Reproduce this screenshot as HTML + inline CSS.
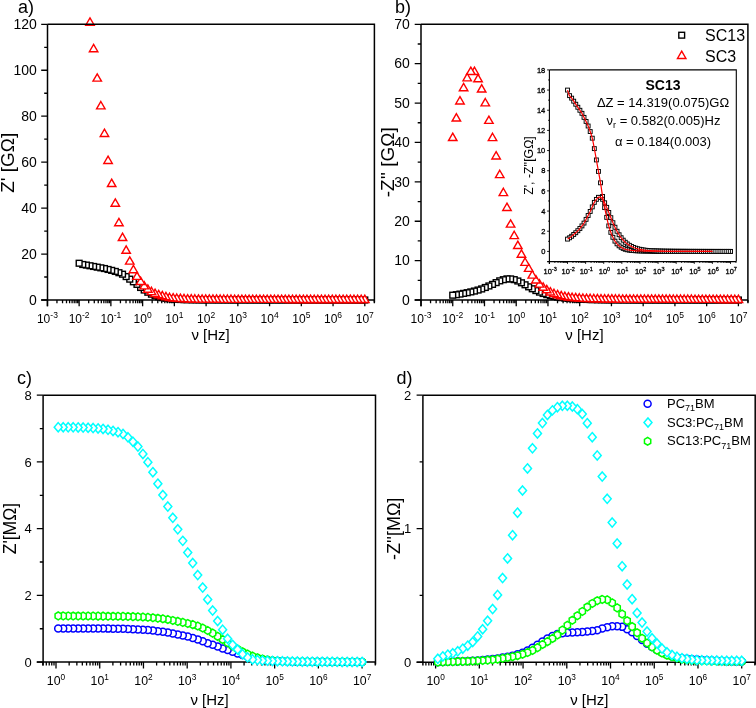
<!DOCTYPE html><html><head><meta charset="utf-8"><style>html,body{margin:0;padding:0;background:#fff}svg{display:block}text{font-family:"Liberation Sans", sans-serif;fill:#000}svg{will-change:transform}</style></head><body>
<svg width="756" height="708" viewBox="0 0 756 708">
<rect width="756" height="708" fill="#fff"/>
<g id="pa">
<line x1="41.20" y1="300.00" x2="374.40" y2="300.00" stroke="#000" stroke-width="1.5"/>
<line x1="47.50" y1="24.30" x2="47.50" y2="306.30" stroke="#000" stroke-width="1.5"/>
<path d="M47.40,300.00v6.30M56.95,300.00v3.30M62.54,300.00v3.30M66.51,300.00v3.30M69.59,300.00v3.30M72.10,300.00v3.30M74.22,300.00v3.30M76.06,300.00v3.30M77.69,300.00v3.30M79.14,300.00v6.30M88.69,300.00v3.30M94.28,300.00v3.30M98.25,300.00v3.30M101.33,300.00v3.30M103.84,300.00v3.30M105.96,300.00v3.30M107.80,300.00v3.30M109.43,300.00v3.30M110.88,300.00v6.30M120.43,300.00v3.30M126.02,300.00v3.30M129.99,300.00v3.30M133.07,300.00v3.30M135.58,300.00v3.30M137.70,300.00v3.30M139.54,300.00v3.30M141.17,300.00v3.30M142.62,300.00v6.30M152.17,300.00v3.30M157.76,300.00v3.30M161.73,300.00v3.30M164.81,300.00v3.30M167.32,300.00v3.30M169.44,300.00v3.30M171.28,300.00v3.30M172.91,300.00v3.30M174.36,300.00v6.30M183.91,300.00v3.30M189.50,300.00v3.30M193.47,300.00v3.30M196.55,300.00v3.30M199.06,300.00v3.30M201.18,300.00v3.30M203.02,300.00v3.30M204.65,300.00v3.30M206.10,300.00v6.30M215.65,300.00v3.30M221.24,300.00v3.30M225.21,300.00v3.30M228.29,300.00v3.30M230.80,300.00v3.30M232.92,300.00v3.30M234.76,300.00v3.30M236.39,300.00v3.30M237.84,300.00v6.30M247.39,300.00v3.30M252.98,300.00v3.30M256.95,300.00v3.30M260.03,300.00v3.30M262.54,300.00v3.30M264.66,300.00v3.30M266.50,300.00v3.30M268.13,300.00v3.30M269.58,300.00v6.30M279.13,300.00v3.30M284.72,300.00v3.30M288.69,300.00v3.30M291.77,300.00v3.30M294.28,300.00v3.30M296.40,300.00v3.30M298.24,300.00v3.30M299.87,300.00v3.30M301.32,300.00v6.30M310.87,300.00v3.30M316.46,300.00v3.30M320.43,300.00v3.30M323.51,300.00v3.30M326.02,300.00v3.30M328.14,300.00v3.30M329.98,300.00v3.30M331.61,300.00v3.30M333.06,300.00v6.30M342.61,300.00v3.30M348.20,300.00v3.30M352.17,300.00v3.30M355.25,300.00v3.30M357.76,300.00v3.30M359.88,300.00v3.30M361.72,300.00v3.30M363.35,300.00v3.30M364.80,300.00v6.30M374.35,300.00v3.30" stroke="#000" stroke-width="1.3" fill="none"/>
<path d="M47.50,300.00h-6.30M47.50,254.05h-6.30M47.50,208.10h-6.30M47.50,162.15h-6.30M47.50,116.20h-6.30M47.50,70.25h-6.30M47.50,24.30h-6.30M47.50,277.02h-3.30M47.50,231.07h-3.30M47.50,185.12h-3.30M47.50,139.18h-3.30M47.50,93.23h-3.30M47.50,47.28h-3.30" stroke="#000" stroke-width="1.3" fill="none"/>
<text x="36.80" y="304.70" font-size="14" text-anchor="end" font-weight="normal" >0</text>
<text x="36.80" y="258.75" font-size="14" text-anchor="end" font-weight="normal" >20</text>
<text x="36.80" y="212.80" font-size="14" text-anchor="end" font-weight="normal" >40</text>
<text x="36.80" y="166.85" font-size="14" text-anchor="end" font-weight="normal" >60</text>
<text x="36.80" y="120.90" font-size="14" text-anchor="end" font-weight="normal" >80</text>
<text x="36.80" y="74.95" font-size="14" text-anchor="end" font-weight="normal" >100</text>
<text x="36.80" y="29.00" font-size="14" text-anchor="end" font-weight="normal" >120</text>
<text x="47.40" y="323.00" font-size="12" text-anchor="middle">10<tspan dy="-4.8" font-size="8.5">-3</tspan></text>
<text x="79.14" y="323.00" font-size="12" text-anchor="middle">10<tspan dy="-4.8" font-size="8.5">-2</tspan></text>
<text x="110.88" y="323.00" font-size="12" text-anchor="middle">10<tspan dy="-4.8" font-size="8.5">-1</tspan></text>
<text x="142.62" y="323.00" font-size="12" text-anchor="middle">10<tspan dy="-4.8" font-size="8.5">0</tspan></text>
<text x="174.36" y="323.00" font-size="12" text-anchor="middle">10<tspan dy="-4.8" font-size="8.5">1</tspan></text>
<text x="206.10" y="323.00" font-size="12" text-anchor="middle">10<tspan dy="-4.8" font-size="8.5">2</tspan></text>
<text x="237.84" y="323.00" font-size="12" text-anchor="middle">10<tspan dy="-4.8" font-size="8.5">3</tspan></text>
<text x="269.58" y="323.00" font-size="12" text-anchor="middle">10<tspan dy="-4.8" font-size="8.5">4</tspan></text>
<text x="301.32" y="323.00" font-size="12" text-anchor="middle">10<tspan dy="-4.8" font-size="8.5">5</tspan></text>
<text x="333.06" y="323.00" font-size="12" text-anchor="middle">10<tspan dy="-4.8" font-size="8.5">6</tspan></text>
<text x="364.80" y="323.00" font-size="12" text-anchor="middle">10<tspan dy="-4.8" font-size="8.5">7</tspan></text>
<rect x="361.90" y="297.10" width="5.80" height="5.80" fill="#fff" stroke="#000" stroke-width="1.4"/>
<rect x="358.28" y="297.10" width="5.80" height="5.80" fill="#fff" stroke="#000" stroke-width="1.4"/>
<rect x="354.67" y="297.10" width="5.80" height="5.80" fill="#fff" stroke="#000" stroke-width="1.4"/>
<rect x="351.05" y="297.10" width="5.80" height="5.80" fill="#fff" stroke="#000" stroke-width="1.4"/>
<rect x="347.44" y="297.10" width="5.80" height="5.80" fill="#fff" stroke="#000" stroke-width="1.4"/>
<rect x="343.82" y="297.10" width="5.80" height="5.80" fill="#fff" stroke="#000" stroke-width="1.4"/>
<rect x="340.20" y="297.10" width="5.80" height="5.80" fill="#fff" stroke="#000" stroke-width="1.4"/>
<rect x="336.59" y="297.10" width="5.80" height="5.80" fill="#fff" stroke="#000" stroke-width="1.4"/>
<rect x="332.97" y="297.10" width="5.80" height="5.80" fill="#fff" stroke="#000" stroke-width="1.4"/>
<rect x="329.36" y="297.10" width="5.80" height="5.80" fill="#fff" stroke="#000" stroke-width="1.4"/>
<rect x="325.74" y="297.10" width="5.80" height="5.80" fill="#fff" stroke="#000" stroke-width="1.4"/>
<rect x="322.12" y="297.09" width="5.80" height="5.80" fill="#fff" stroke="#000" stroke-width="1.4"/>
<rect x="318.51" y="297.09" width="5.80" height="5.80" fill="#fff" stroke="#000" stroke-width="1.4"/>
<rect x="314.89" y="297.09" width="5.80" height="5.80" fill="#fff" stroke="#000" stroke-width="1.4"/>
<rect x="311.28" y="297.09" width="5.80" height="5.80" fill="#fff" stroke="#000" stroke-width="1.4"/>
<rect x="307.66" y="297.09" width="5.80" height="5.80" fill="#fff" stroke="#000" stroke-width="1.4"/>
<rect x="304.04" y="297.09" width="5.80" height="5.80" fill="#fff" stroke="#000" stroke-width="1.4"/>
<rect x="300.43" y="297.09" width="5.80" height="5.80" fill="#fff" stroke="#000" stroke-width="1.4"/>
<rect x="296.81" y="297.09" width="5.80" height="5.80" fill="#fff" stroke="#000" stroke-width="1.4"/>
<rect x="293.20" y="297.09" width="5.80" height="5.80" fill="#fff" stroke="#000" stroke-width="1.4"/>
<rect x="289.58" y="297.09" width="5.80" height="5.80" fill="#fff" stroke="#000" stroke-width="1.4"/>
<rect x="285.97" y="297.08" width="5.80" height="5.80" fill="#fff" stroke="#000" stroke-width="1.4"/>
<rect x="282.35" y="297.08" width="5.80" height="5.80" fill="#fff" stroke="#000" stroke-width="1.4"/>
<rect x="278.73" y="297.08" width="5.80" height="5.80" fill="#fff" stroke="#000" stroke-width="1.4"/>
<rect x="275.12" y="297.08" width="5.80" height="5.80" fill="#fff" stroke="#000" stroke-width="1.4"/>
<rect x="271.50" y="297.08" width="5.80" height="5.80" fill="#fff" stroke="#000" stroke-width="1.4"/>
<rect x="267.89" y="297.08" width="5.80" height="5.80" fill="#fff" stroke="#000" stroke-width="1.4"/>
<rect x="264.27" y="297.08" width="5.80" height="5.80" fill="#fff" stroke="#000" stroke-width="1.4"/>
<rect x="260.65" y="297.07" width="5.80" height="5.80" fill="#fff" stroke="#000" stroke-width="1.4"/>
<rect x="257.04" y="297.07" width="5.80" height="5.80" fill="#fff" stroke="#000" stroke-width="1.4"/>
<rect x="253.42" y="297.07" width="5.80" height="5.80" fill="#fff" stroke="#000" stroke-width="1.4"/>
<rect x="249.81" y="297.07" width="5.80" height="5.80" fill="#fff" stroke="#000" stroke-width="1.4"/>
<rect x="246.19" y="297.07" width="5.80" height="5.80" fill="#fff" stroke="#000" stroke-width="1.4"/>
<rect x="242.57" y="297.07" width="5.80" height="5.80" fill="#fff" stroke="#000" stroke-width="1.4"/>
<rect x="238.96" y="297.06" width="5.80" height="5.80" fill="#fff" stroke="#000" stroke-width="1.4"/>
<rect x="235.34" y="297.06" width="5.80" height="5.80" fill="#fff" stroke="#000" stroke-width="1.4"/>
<rect x="231.73" y="297.06" width="5.80" height="5.80" fill="#fff" stroke="#000" stroke-width="1.4"/>
<rect x="228.11" y="297.05" width="5.80" height="5.80" fill="#fff" stroke="#000" stroke-width="1.4"/>
<rect x="224.49" y="297.05" width="5.80" height="5.80" fill="#fff" stroke="#000" stroke-width="1.4"/>
<rect x="220.88" y="297.04" width="5.80" height="5.80" fill="#fff" stroke="#000" stroke-width="1.4"/>
<rect x="217.26" y="297.04" width="5.80" height="5.80" fill="#fff" stroke="#000" stroke-width="1.4"/>
<rect x="213.65" y="297.03" width="5.80" height="5.80" fill="#fff" stroke="#000" stroke-width="1.4"/>
<rect x="210.03" y="297.02" width="5.80" height="5.80" fill="#fff" stroke="#000" stroke-width="1.4"/>
<rect x="206.41" y="297.01" width="5.80" height="5.80" fill="#fff" stroke="#000" stroke-width="1.4"/>
<rect x="202.80" y="296.99" width="5.80" height="5.80" fill="#fff" stroke="#000" stroke-width="1.4"/>
<rect x="199.18" y="296.98" width="5.80" height="5.80" fill="#fff" stroke="#000" stroke-width="1.4"/>
<rect x="195.57" y="296.95" width="5.80" height="5.80" fill="#fff" stroke="#000" stroke-width="1.4"/>
<rect x="191.95" y="296.92" width="5.80" height="5.80" fill="#fff" stroke="#000" stroke-width="1.4"/>
<rect x="188.33" y="296.87" width="5.80" height="5.80" fill="#fff" stroke="#000" stroke-width="1.4"/>
<rect x="184.72" y="296.81" width="5.80" height="5.80" fill="#fff" stroke="#000" stroke-width="1.4"/>
<rect x="181.10" y="296.74" width="5.80" height="5.80" fill="#fff" stroke="#000" stroke-width="1.4"/>
<rect x="177.49" y="296.62" width="5.80" height="5.80" fill="#fff" stroke="#000" stroke-width="1.4"/>
<rect x="173.87" y="296.42" width="5.80" height="5.80" fill="#fff" stroke="#000" stroke-width="1.4"/>
<rect x="170.25" y="296.16" width="5.80" height="5.80" fill="#fff" stroke="#000" stroke-width="1.4"/>
<rect x="166.64" y="295.83" width="5.80" height="5.80" fill="#fff" stroke="#000" stroke-width="1.4"/>
<rect x="163.02" y="295.38" width="5.80" height="5.80" fill="#fff" stroke="#000" stroke-width="1.4"/>
<rect x="159.41" y="294.76" width="5.80" height="5.80" fill="#fff" stroke="#000" stroke-width="1.4"/>
<rect x="155.79" y="293.89" width="5.80" height="5.80" fill="#fff" stroke="#000" stroke-width="1.4"/>
<rect x="152.17" y="292.76" width="5.80" height="5.80" fill="#fff" stroke="#000" stroke-width="1.4"/>
<rect x="148.56" y="291.29" width="5.80" height="5.80" fill="#fff" stroke="#000" stroke-width="1.4"/>
<rect x="144.94" y="289.35" width="5.80" height="5.80" fill="#fff" stroke="#000" stroke-width="1.4"/>
<rect x="141.33" y="287.12" width="5.80" height="5.80" fill="#fff" stroke="#000" stroke-width="1.4"/>
<rect x="137.71" y="284.57" width="5.80" height="5.80" fill="#fff" stroke="#000" stroke-width="1.4"/>
<rect x="134.10" y="281.47" width="5.80" height="5.80" fill="#fff" stroke="#000" stroke-width="1.4"/>
<rect x="130.48" y="278.88" width="5.80" height="5.80" fill="#fff" stroke="#000" stroke-width="1.4"/>
<rect x="126.86" y="276.26" width="5.80" height="5.80" fill="#fff" stroke="#000" stroke-width="1.4"/>
<rect x="123.25" y="273.68" width="5.80" height="5.80" fill="#fff" stroke="#000" stroke-width="1.4"/>
<rect x="119.63" y="271.30" width="5.80" height="5.80" fill="#fff" stroke="#000" stroke-width="1.4"/>
<rect x="116.02" y="269.80" width="5.80" height="5.80" fill="#fff" stroke="#000" stroke-width="1.4"/>
<rect x="112.40" y="268.53" width="5.80" height="5.80" fill="#fff" stroke="#000" stroke-width="1.4"/>
<rect x="108.78" y="267.48" width="5.80" height="5.80" fill="#fff" stroke="#000" stroke-width="1.4"/>
<rect x="105.17" y="266.56" width="5.80" height="5.80" fill="#fff" stroke="#000" stroke-width="1.4"/>
<rect x="101.55" y="265.64" width="5.80" height="5.80" fill="#fff" stroke="#000" stroke-width="1.4"/>
<rect x="97.94" y="264.94" width="5.80" height="5.80" fill="#fff" stroke="#000" stroke-width="1.4"/>
<rect x="94.32" y="264.26" width="5.80" height="5.80" fill="#fff" stroke="#000" stroke-width="1.4"/>
<rect x="90.70" y="263.57" width="5.80" height="5.80" fill="#fff" stroke="#000" stroke-width="1.4"/>
<rect x="87.09" y="262.87" width="5.80" height="5.80" fill="#fff" stroke="#000" stroke-width="1.4"/>
<rect x="83.47" y="262.18" width="5.80" height="5.80" fill="#fff" stroke="#000" stroke-width="1.4"/>
<rect x="79.86" y="261.61" width="5.80" height="5.80" fill="#fff" stroke="#000" stroke-width="1.4"/>
<rect x="76.24" y="260.34" width="5.80" height="5.80" fill="#fff" stroke="#000" stroke-width="1.4"/>
<path d="M364.80,295.10L369.04,302.45L360.56,302.45Z" fill="#fff" stroke="#f00" stroke-width="1.4" stroke-linejoin="miter"/>
<path d="M361.18,295.10L365.43,302.45L356.94,302.45Z" fill="#fff" stroke="#f00" stroke-width="1.4" stroke-linejoin="miter"/>
<path d="M357.57,295.10L361.81,302.45L353.32,302.45Z" fill="#fff" stroke="#f00" stroke-width="1.4" stroke-linejoin="miter"/>
<path d="M353.95,295.10L358.20,302.45L349.71,302.45Z" fill="#fff" stroke="#f00" stroke-width="1.4" stroke-linejoin="miter"/>
<path d="M350.34,295.10L354.58,302.45L346.09,302.45Z" fill="#fff" stroke="#f00" stroke-width="1.4" stroke-linejoin="miter"/>
<path d="M346.72,295.10L350.96,302.45L342.48,302.45Z" fill="#fff" stroke="#f00" stroke-width="1.4" stroke-linejoin="miter"/>
<path d="M343.10,295.10L347.35,302.45L338.86,302.45Z" fill="#fff" stroke="#f00" stroke-width="1.4" stroke-linejoin="miter"/>
<path d="M339.49,295.10L343.73,302.45L335.24,302.45Z" fill="#fff" stroke="#f00" stroke-width="1.4" stroke-linejoin="miter"/>
<path d="M335.87,295.10L340.12,302.45L331.63,302.45Z" fill="#fff" stroke="#f00" stroke-width="1.4" stroke-linejoin="miter"/>
<path d="M332.26,295.10L336.50,302.45L328.01,302.45Z" fill="#fff" stroke="#f00" stroke-width="1.4" stroke-linejoin="miter"/>
<path d="M328.64,295.09L332.88,302.44L324.40,302.44Z" fill="#fff" stroke="#f00" stroke-width="1.4" stroke-linejoin="miter"/>
<path d="M325.02,295.09L329.27,302.44L320.78,302.44Z" fill="#fff" stroke="#f00" stroke-width="1.4" stroke-linejoin="miter"/>
<path d="M321.41,295.09L325.65,302.44L317.17,302.44Z" fill="#fff" stroke="#f00" stroke-width="1.4" stroke-linejoin="miter"/>
<path d="M317.79,295.09L322.04,302.44L313.55,302.44Z" fill="#fff" stroke="#f00" stroke-width="1.4" stroke-linejoin="miter"/>
<path d="M314.18,295.09L318.42,302.44L309.93,302.44Z" fill="#fff" stroke="#f00" stroke-width="1.4" stroke-linejoin="miter"/>
<path d="M310.56,295.09L314.80,302.44L306.32,302.44Z" fill="#fff" stroke="#f00" stroke-width="1.4" stroke-linejoin="miter"/>
<path d="M306.94,295.09L311.19,302.44L302.70,302.44Z" fill="#fff" stroke="#f00" stroke-width="1.4" stroke-linejoin="miter"/>
<path d="M303.33,295.08L307.57,302.43L299.09,302.43Z" fill="#fff" stroke="#f00" stroke-width="1.4" stroke-linejoin="miter"/>
<path d="M299.71,295.08L303.96,302.43L295.47,302.43Z" fill="#fff" stroke="#f00" stroke-width="1.4" stroke-linejoin="miter"/>
<path d="M296.10,295.08L300.34,302.43L291.85,302.43Z" fill="#fff" stroke="#f00" stroke-width="1.4" stroke-linejoin="miter"/>
<path d="M292.48,295.08L296.72,302.43L288.24,302.43Z" fill="#fff" stroke="#f00" stroke-width="1.4" stroke-linejoin="miter"/>
<path d="M288.87,295.08L293.11,302.43L284.62,302.43Z" fill="#fff" stroke="#f00" stroke-width="1.4" stroke-linejoin="miter"/>
<path d="M285.25,295.07L289.49,302.42L281.01,302.42Z" fill="#fff" stroke="#f00" stroke-width="1.4" stroke-linejoin="miter"/>
<path d="M281.63,295.07L285.88,302.42L277.39,302.42Z" fill="#fff" stroke="#f00" stroke-width="1.4" stroke-linejoin="miter"/>
<path d="M278.02,295.07L282.26,302.42L273.77,302.42Z" fill="#fff" stroke="#f00" stroke-width="1.4" stroke-linejoin="miter"/>
<path d="M274.40,295.06L278.64,302.41L270.16,302.41Z" fill="#fff" stroke="#f00" stroke-width="1.4" stroke-linejoin="miter"/>
<path d="M270.79,295.06L275.03,302.41L266.54,302.41Z" fill="#fff" stroke="#f00" stroke-width="1.4" stroke-linejoin="miter"/>
<path d="M267.17,295.06L271.41,302.41L262.93,302.41Z" fill="#fff" stroke="#f00" stroke-width="1.4" stroke-linejoin="miter"/>
<path d="M263.55,295.06L267.80,302.41L259.31,302.41Z" fill="#fff" stroke="#f00" stroke-width="1.4" stroke-linejoin="miter"/>
<path d="M259.94,295.05L264.18,302.40L255.69,302.40Z" fill="#fff" stroke="#f00" stroke-width="1.4" stroke-linejoin="miter"/>
<path d="M256.32,295.05L260.56,302.40L252.08,302.40Z" fill="#fff" stroke="#f00" stroke-width="1.4" stroke-linejoin="miter"/>
<path d="M252.71,295.05L256.95,302.40L248.46,302.40Z" fill="#fff" stroke="#f00" stroke-width="1.4" stroke-linejoin="miter"/>
<path d="M249.09,295.04L253.33,302.39L244.85,302.39Z" fill="#fff" stroke="#f00" stroke-width="1.4" stroke-linejoin="miter"/>
<path d="M245.47,295.04L249.72,302.39L241.23,302.39Z" fill="#fff" stroke="#f00" stroke-width="1.4" stroke-linejoin="miter"/>
<path d="M241.86,295.04L246.10,302.39L237.61,302.39Z" fill="#fff" stroke="#f00" stroke-width="1.4" stroke-linejoin="miter"/>
<path d="M238.24,295.03L242.49,302.38L234.00,302.38Z" fill="#fff" stroke="#f00" stroke-width="1.4" stroke-linejoin="miter"/>
<path d="M234.63,295.03L238.87,302.38L230.38,302.38Z" fill="#fff" stroke="#f00" stroke-width="1.4" stroke-linejoin="miter"/>
<path d="M231.01,295.02L235.25,302.37L226.77,302.37Z" fill="#fff" stroke="#f00" stroke-width="1.4" stroke-linejoin="miter"/>
<path d="M227.39,295.01L231.64,302.36L223.15,302.36Z" fill="#fff" stroke="#f00" stroke-width="1.4" stroke-linejoin="miter"/>
<path d="M223.78,295.00L228.02,302.35L219.53,302.35Z" fill="#fff" stroke="#f00" stroke-width="1.4" stroke-linejoin="miter"/>
<path d="M220.16,294.99L224.41,302.34L215.92,302.34Z" fill="#fff" stroke="#f00" stroke-width="1.4" stroke-linejoin="miter"/>
<path d="M216.55,294.97L220.79,302.32L212.30,302.32Z" fill="#fff" stroke="#f00" stroke-width="1.4" stroke-linejoin="miter"/>
<path d="M212.93,294.96L217.17,302.31L208.69,302.31Z" fill="#fff" stroke="#f00" stroke-width="1.4" stroke-linejoin="miter"/>
<path d="M209.31,294.94L213.56,302.29L205.07,302.29Z" fill="#fff" stroke="#f00" stroke-width="1.4" stroke-linejoin="miter"/>
<path d="M205.70,294.91L209.94,302.26L201.45,302.26Z" fill="#fff" stroke="#f00" stroke-width="1.4" stroke-linejoin="miter"/>
<path d="M202.08,294.87L206.33,302.22L197.84,302.22Z" fill="#fff" stroke="#f00" stroke-width="1.4" stroke-linejoin="miter"/>
<path d="M198.47,294.81L202.71,302.16L194.22,302.16Z" fill="#fff" stroke="#f00" stroke-width="1.4" stroke-linejoin="miter"/>
<path d="M194.85,294.74L199.09,302.09L190.61,302.09Z" fill="#fff" stroke="#f00" stroke-width="1.4" stroke-linejoin="miter"/>
<path d="M191.23,294.66L195.48,302.01L186.99,302.01Z" fill="#fff" stroke="#f00" stroke-width="1.4" stroke-linejoin="miter"/>
<path d="M187.62,294.54L191.86,301.89L183.38,301.89Z" fill="#fff" stroke="#f00" stroke-width="1.4" stroke-linejoin="miter"/>
<path d="M184.00,294.40L188.25,301.75L179.76,301.75Z" fill="#fff" stroke="#f00" stroke-width="1.4" stroke-linejoin="miter"/>
<path d="M180.39,294.21L184.63,301.56L176.14,301.56Z" fill="#fff" stroke="#f00" stroke-width="1.4" stroke-linejoin="miter"/>
<path d="M176.77,293.98L181.01,301.33L172.53,301.33Z" fill="#fff" stroke="#f00" stroke-width="1.4" stroke-linejoin="miter"/>
<path d="M173.15,293.66L177.40,301.01L168.91,301.01Z" fill="#fff" stroke="#f00" stroke-width="1.4" stroke-linejoin="miter"/>
<path d="M169.54,293.25L173.78,300.60L165.30,300.60Z" fill="#fff" stroke="#f00" stroke-width="1.4" stroke-linejoin="miter"/>
<path d="M165.92,292.40L170.17,299.75L161.68,299.75Z" fill="#fff" stroke="#f00" stroke-width="1.4" stroke-linejoin="miter"/>
<path d="M162.31,291.43L166.55,298.78L158.06,298.78Z" fill="#fff" stroke="#f00" stroke-width="1.4" stroke-linejoin="miter"/>
<path d="M158.69,290.42L162.93,297.77L154.45,297.77Z" fill="#fff" stroke="#f00" stroke-width="1.4" stroke-linejoin="miter"/>
<path d="M155.07,289.08L159.32,296.43L150.83,296.43Z" fill="#fff" stroke="#f00" stroke-width="1.4" stroke-linejoin="miter"/>
<path d="M151.46,287.26L155.70,294.61L147.22,294.61Z" fill="#fff" stroke="#f00" stroke-width="1.4" stroke-linejoin="miter"/>
<path d="M147.84,284.89L152.09,292.24L143.60,292.24Z" fill="#fff" stroke="#f00" stroke-width="1.4" stroke-linejoin="miter"/>
<path d="M144.23,281.57L148.47,288.92L139.98,288.92Z" fill="#fff" stroke="#f00" stroke-width="1.4" stroke-linejoin="miter"/>
<path d="M140.61,277.10L144.85,284.45L136.37,284.45Z" fill="#fff" stroke="#f00" stroke-width="1.4" stroke-linejoin="miter"/>
<path d="M137.00,272.04L141.24,279.39L132.75,279.39Z" fill="#fff" stroke="#f00" stroke-width="1.4" stroke-linejoin="miter"/>
<path d="M133.38,265.39L137.62,272.74L129.14,272.74Z" fill="#fff" stroke="#f00" stroke-width="1.4" stroke-linejoin="miter"/>
<path d="M129.76,256.79L134.01,264.14L125.52,264.14Z" fill="#fff" stroke="#f00" stroke-width="1.4" stroke-linejoin="miter"/>
<path d="M126.15,245.96L130.39,253.31L121.90,253.31Z" fill="#fff" stroke="#f00" stroke-width="1.4" stroke-linejoin="miter"/>
<path d="M122.53,233.18L126.77,240.53L118.29,240.53Z" fill="#fff" stroke="#f00" stroke-width="1.4" stroke-linejoin="miter"/>
<path d="M118.92,218.39L123.16,225.74L114.67,225.74Z" fill="#fff" stroke="#f00" stroke-width="1.4" stroke-linejoin="miter"/>
<path d="M115.30,198.83L119.54,206.18L111.06,206.18Z" fill="#fff" stroke="#f00" stroke-width="1.4" stroke-linejoin="miter"/>
<path d="M111.68,179.18L115.93,186.53L107.44,186.53Z" fill="#fff" stroke="#f00" stroke-width="1.4" stroke-linejoin="miter"/>
<path d="M108.07,156.16L112.31,163.51L103.82,163.51Z" fill="#fff" stroke="#f00" stroke-width="1.4" stroke-linejoin="miter"/>
<path d="M104.45,129.08L108.70,136.43L100.21,136.43Z" fill="#fff" stroke="#f00" stroke-width="1.4" stroke-linejoin="miter"/>
<path d="M100.84,101.51L105.08,108.86L96.59,108.86Z" fill="#fff" stroke="#f00" stroke-width="1.4" stroke-linejoin="miter"/>
<path d="M97.22,73.78L101.46,81.13L92.98,81.13Z" fill="#fff" stroke="#f00" stroke-width="1.4" stroke-linejoin="miter"/>
<path d="M93.60,44.34L97.85,51.69L89.36,51.69Z" fill="#fff" stroke="#f00" stroke-width="1.4" stroke-linejoin="miter"/>
<path d="M89.99,17.92L94.23,25.27L85.74,25.27Z" fill="#fff" stroke="#f00" stroke-width="1.4" stroke-linejoin="miter"/>
<path d="M47.50,24.30H374.40V302.50" stroke="#000" stroke-width="1.5" fill="none"/>
</g>
<g id="pb">
<line x1="414.70" y1="300.00" x2="747.90" y2="300.00" stroke="#000" stroke-width="1.5"/>
<line x1="421.00" y1="24.30" x2="421.00" y2="306.30" stroke="#000" stroke-width="1.5"/>
<path d="M421.00,300.00v6.30M430.55,300.00v3.30M436.14,300.00v3.30M440.11,300.00v3.30M443.19,300.00v3.30M445.70,300.00v3.30M447.82,300.00v3.30M449.66,300.00v3.30M451.29,300.00v3.30M452.74,300.00v6.30M462.29,300.00v3.30M467.88,300.00v3.30M471.85,300.00v3.30M474.93,300.00v3.30M477.44,300.00v3.30M479.56,300.00v3.30M481.40,300.00v3.30M483.03,300.00v3.30M484.48,300.00v6.30M494.03,300.00v3.30M499.62,300.00v3.30M503.59,300.00v3.30M506.67,300.00v3.30M509.18,300.00v3.30M511.30,300.00v3.30M513.14,300.00v3.30M514.77,300.00v3.30M516.22,300.00v6.30M525.77,300.00v3.30M531.36,300.00v3.30M535.33,300.00v3.30M538.41,300.00v3.30M540.92,300.00v3.30M543.04,300.00v3.30M544.88,300.00v3.30M546.51,300.00v3.30M547.96,300.00v6.30M557.51,300.00v3.30M563.10,300.00v3.30M567.07,300.00v3.30M570.15,300.00v3.30M572.66,300.00v3.30M574.78,300.00v3.30M576.62,300.00v3.30M578.25,300.00v3.30M579.70,300.00v6.30M589.25,300.00v3.30M594.84,300.00v3.30M598.81,300.00v3.30M601.89,300.00v3.30M604.40,300.00v3.30M606.52,300.00v3.30M608.36,300.00v3.30M609.99,300.00v3.30M611.44,300.00v6.30M620.99,300.00v3.30M626.58,300.00v3.30M630.55,300.00v3.30M633.63,300.00v3.30M636.14,300.00v3.30M638.26,300.00v3.30M640.10,300.00v3.30M641.73,300.00v3.30M643.18,300.00v6.30M652.73,300.00v3.30M658.32,300.00v3.30M662.29,300.00v3.30M665.37,300.00v3.30M667.88,300.00v3.30M670.00,300.00v3.30M671.84,300.00v3.30M673.47,300.00v3.30M674.92,300.00v6.30M684.47,300.00v3.30M690.06,300.00v3.30M694.03,300.00v3.30M697.11,300.00v3.30M699.62,300.00v3.30M701.74,300.00v3.30M703.58,300.00v3.30M705.21,300.00v3.30M706.66,300.00v6.30M716.21,300.00v3.30M721.80,300.00v3.30M725.77,300.00v3.30M728.85,300.00v3.30M731.36,300.00v3.30M733.48,300.00v3.30M735.32,300.00v3.30M736.95,300.00v3.30M738.40,300.00v6.30M747.95,300.00v3.30" stroke="#000" stroke-width="1.3" fill="none"/>
<path d="M421.00,300.00h-6.30M421.00,260.61h-6.30M421.00,221.23h-6.30M421.00,181.84h-6.30M421.00,142.46h-6.30M421.00,103.07h-6.30M421.00,63.69h-6.30M421.00,24.30h-6.30M421.00,280.31h-3.30M421.00,240.92h-3.30M421.00,201.54h-3.30M421.00,162.15h-3.30M421.00,122.76h-3.30M421.00,83.38h-3.30M421.00,43.99h-3.30" stroke="#000" stroke-width="1.3" fill="none"/>
<text x="409.80" y="304.70" font-size="14" text-anchor="end" font-weight="normal" >0</text>
<text x="409.80" y="265.31" font-size="14" text-anchor="end" font-weight="normal" >10</text>
<text x="409.80" y="225.93" font-size="14" text-anchor="end" font-weight="normal" >20</text>
<text x="409.80" y="186.54" font-size="14" text-anchor="end" font-weight="normal" >30</text>
<text x="409.80" y="147.16" font-size="14" text-anchor="end" font-weight="normal" >40</text>
<text x="409.80" y="107.77" font-size="14" text-anchor="end" font-weight="normal" >50</text>
<text x="409.80" y="68.39" font-size="14" text-anchor="end" font-weight="normal" >60</text>
<text x="409.80" y="29.00" font-size="14" text-anchor="end" font-weight="normal" >70</text>
<text x="421.00" y="323.00" font-size="12" text-anchor="middle">10<tspan dy="-4.8" font-size="8.5">-3</tspan></text>
<text x="452.74" y="323.00" font-size="12" text-anchor="middle">10<tspan dy="-4.8" font-size="8.5">-2</tspan></text>
<text x="484.48" y="323.00" font-size="12" text-anchor="middle">10<tspan dy="-4.8" font-size="8.5">-1</tspan></text>
<text x="516.22" y="323.00" font-size="12" text-anchor="middle">10<tspan dy="-4.8" font-size="8.5">0</tspan></text>
<text x="547.96" y="323.00" font-size="12" text-anchor="middle">10<tspan dy="-4.8" font-size="8.5">1</tspan></text>
<text x="579.70" y="323.00" font-size="12" text-anchor="middle">10<tspan dy="-4.8" font-size="8.5">2</tspan></text>
<text x="611.44" y="323.00" font-size="12" text-anchor="middle">10<tspan dy="-4.8" font-size="8.5">3</tspan></text>
<text x="643.18" y="323.00" font-size="12" text-anchor="middle">10<tspan dy="-4.8" font-size="8.5">4</tspan></text>
<text x="674.92" y="323.00" font-size="12" text-anchor="middle">10<tspan dy="-4.8" font-size="8.5">5</tspan></text>
<text x="706.66" y="323.00" font-size="12" text-anchor="middle">10<tspan dy="-4.8" font-size="8.5">6</tspan></text>
<text x="738.40" y="323.00" font-size="12" text-anchor="middle">10<tspan dy="-4.8" font-size="8.5">7</tspan></text>
<rect x="735.50" y="297.10" width="5.80" height="5.80" fill="#fff" stroke="#000" stroke-width="1.4"/>
<rect x="731.88" y="297.10" width="5.80" height="5.80" fill="#fff" stroke="#000" stroke-width="1.4"/>
<rect x="728.27" y="297.10" width="5.80" height="5.80" fill="#fff" stroke="#000" stroke-width="1.4"/>
<rect x="724.65" y="297.10" width="5.80" height="5.80" fill="#fff" stroke="#000" stroke-width="1.4"/>
<rect x="721.04" y="297.10" width="5.80" height="5.80" fill="#fff" stroke="#000" stroke-width="1.4"/>
<rect x="717.42" y="297.10" width="5.80" height="5.80" fill="#fff" stroke="#000" stroke-width="1.4"/>
<rect x="713.80" y="297.10" width="5.80" height="5.80" fill="#fff" stroke="#000" stroke-width="1.4"/>
<rect x="710.19" y="297.10" width="5.80" height="5.80" fill="#fff" stroke="#000" stroke-width="1.4"/>
<rect x="706.57" y="297.10" width="5.80" height="5.80" fill="#fff" stroke="#000" stroke-width="1.4"/>
<rect x="702.96" y="297.10" width="5.80" height="5.80" fill="#fff" stroke="#000" stroke-width="1.4"/>
<rect x="699.34" y="297.10" width="5.80" height="5.80" fill="#fff" stroke="#000" stroke-width="1.4"/>
<rect x="695.72" y="297.10" width="5.80" height="5.80" fill="#fff" stroke="#000" stroke-width="1.4"/>
<rect x="692.11" y="297.10" width="5.80" height="5.80" fill="#fff" stroke="#000" stroke-width="1.4"/>
<rect x="688.49" y="297.10" width="5.80" height="5.80" fill="#fff" stroke="#000" stroke-width="1.4"/>
<rect x="684.88" y="297.10" width="5.80" height="5.80" fill="#fff" stroke="#000" stroke-width="1.4"/>
<rect x="681.26" y="297.10" width="5.80" height="5.80" fill="#fff" stroke="#000" stroke-width="1.4"/>
<rect x="677.64" y="297.10" width="5.80" height="5.80" fill="#fff" stroke="#000" stroke-width="1.4"/>
<rect x="674.03" y="297.10" width="5.80" height="5.80" fill="#fff" stroke="#000" stroke-width="1.4"/>
<rect x="670.41" y="297.10" width="5.80" height="5.80" fill="#fff" stroke="#000" stroke-width="1.4"/>
<rect x="666.80" y="297.10" width="5.80" height="5.80" fill="#fff" stroke="#000" stroke-width="1.4"/>
<rect x="663.18" y="297.10" width="5.80" height="5.80" fill="#fff" stroke="#000" stroke-width="1.4"/>
<rect x="659.57" y="297.09" width="5.80" height="5.80" fill="#fff" stroke="#000" stroke-width="1.4"/>
<rect x="655.95" y="297.09" width="5.80" height="5.80" fill="#fff" stroke="#000" stroke-width="1.4"/>
<rect x="652.33" y="297.09" width="5.80" height="5.80" fill="#fff" stroke="#000" stroke-width="1.4"/>
<rect x="648.72" y="297.09" width="5.80" height="5.80" fill="#fff" stroke="#000" stroke-width="1.4"/>
<rect x="645.10" y="297.09" width="5.80" height="5.80" fill="#fff" stroke="#000" stroke-width="1.4"/>
<rect x="641.49" y="297.08" width="5.80" height="5.80" fill="#fff" stroke="#000" stroke-width="1.4"/>
<rect x="637.87" y="297.08" width="5.80" height="5.80" fill="#fff" stroke="#000" stroke-width="1.4"/>
<rect x="634.25" y="297.07" width="5.80" height="5.80" fill="#fff" stroke="#000" stroke-width="1.4"/>
<rect x="630.64" y="297.07" width="5.80" height="5.80" fill="#fff" stroke="#000" stroke-width="1.4"/>
<rect x="627.02" y="297.06" width="5.80" height="5.80" fill="#fff" stroke="#000" stroke-width="1.4"/>
<rect x="623.41" y="297.05" width="5.80" height="5.80" fill="#fff" stroke="#000" stroke-width="1.4"/>
<rect x="619.79" y="297.04" width="5.80" height="5.80" fill="#fff" stroke="#000" stroke-width="1.4"/>
<rect x="616.17" y="297.02" width="5.80" height="5.80" fill="#fff" stroke="#000" stroke-width="1.4"/>
<rect x="612.56" y="297.00" width="5.80" height="5.80" fill="#fff" stroke="#000" stroke-width="1.4"/>
<rect x="608.94" y="296.98" width="5.80" height="5.80" fill="#fff" stroke="#000" stroke-width="1.4"/>
<rect x="605.33" y="296.95" width="5.80" height="5.80" fill="#fff" stroke="#000" stroke-width="1.4"/>
<rect x="601.71" y="296.91" width="5.80" height="5.80" fill="#fff" stroke="#000" stroke-width="1.4"/>
<rect x="598.09" y="296.87" width="5.80" height="5.80" fill="#fff" stroke="#000" stroke-width="1.4"/>
<rect x="594.48" y="296.81" width="5.80" height="5.80" fill="#fff" stroke="#000" stroke-width="1.4"/>
<rect x="590.86" y="296.75" width="5.80" height="5.80" fill="#fff" stroke="#000" stroke-width="1.4"/>
<rect x="587.25" y="296.66" width="5.80" height="5.80" fill="#fff" stroke="#000" stroke-width="1.4"/>
<rect x="583.63" y="296.56" width="5.80" height="5.80" fill="#fff" stroke="#000" stroke-width="1.4"/>
<rect x="580.01" y="296.43" width="5.80" height="5.80" fill="#fff" stroke="#000" stroke-width="1.4"/>
<rect x="576.40" y="296.27" width="5.80" height="5.80" fill="#fff" stroke="#000" stroke-width="1.4"/>
<rect x="572.78" y="296.07" width="5.80" height="5.80" fill="#fff" stroke="#000" stroke-width="1.4"/>
<rect x="569.17" y="295.83" width="5.80" height="5.80" fill="#fff" stroke="#000" stroke-width="1.4"/>
<rect x="565.55" y="295.54" width="5.80" height="5.80" fill="#fff" stroke="#000" stroke-width="1.4"/>
<rect x="561.93" y="295.17" width="5.80" height="5.80" fill="#fff" stroke="#000" stroke-width="1.4"/>
<rect x="558.32" y="294.73" width="5.80" height="5.80" fill="#fff" stroke="#000" stroke-width="1.4"/>
<rect x="554.70" y="294.18" width="5.80" height="5.80" fill="#fff" stroke="#000" stroke-width="1.4"/>
<rect x="551.09" y="293.52" width="5.80" height="5.80" fill="#fff" stroke="#000" stroke-width="1.4"/>
<rect x="547.47" y="292.71" width="5.80" height="5.80" fill="#fff" stroke="#000" stroke-width="1.4"/>
<rect x="543.85" y="291.75" width="5.80" height="5.80" fill="#fff" stroke="#000" stroke-width="1.4"/>
<rect x="540.24" y="290.59" width="5.80" height="5.80" fill="#fff" stroke="#000" stroke-width="1.4"/>
<rect x="536.62" y="289.23" width="5.80" height="5.80" fill="#fff" stroke="#000" stroke-width="1.4"/>
<rect x="533.01" y="287.66" width="5.80" height="5.80" fill="#fff" stroke="#000" stroke-width="1.4"/>
<rect x="529.39" y="285.88" width="5.80" height="5.80" fill="#fff" stroke="#000" stroke-width="1.4"/>
<rect x="525.77" y="283.93" width="5.80" height="5.80" fill="#fff" stroke="#000" stroke-width="1.4"/>
<rect x="522.16" y="281.89" width="5.80" height="5.80" fill="#fff" stroke="#000" stroke-width="1.4"/>
<rect x="518.54" y="279.89" width="5.80" height="5.80" fill="#fff" stroke="#000" stroke-width="1.4"/>
<rect x="514.93" y="278.11" width="5.80" height="5.80" fill="#fff" stroke="#000" stroke-width="1.4"/>
<rect x="511.31" y="276.75" width="5.80" height="5.80" fill="#fff" stroke="#000" stroke-width="1.4"/>
<rect x="507.70" y="276.01" width="5.80" height="5.80" fill="#fff" stroke="#000" stroke-width="1.4"/>
<rect x="504.08" y="275.97" width="5.80" height="5.80" fill="#fff" stroke="#000" stroke-width="1.4"/>
<rect x="500.46" y="276.79" width="5.80" height="5.80" fill="#fff" stroke="#000" stroke-width="1.4"/>
<rect x="496.85" y="277.95" width="5.80" height="5.80" fill="#fff" stroke="#000" stroke-width="1.4"/>
<rect x="493.23" y="279.72" width="5.80" height="5.80" fill="#fff" stroke="#000" stroke-width="1.4"/>
<rect x="489.62" y="281.50" width="5.80" height="5.80" fill="#fff" stroke="#000" stroke-width="1.4"/>
<rect x="486.00" y="283.07" width="5.80" height="5.80" fill="#fff" stroke="#000" stroke-width="1.4"/>
<rect x="482.38" y="284.58" width="5.80" height="5.80" fill="#fff" stroke="#000" stroke-width="1.4"/>
<rect x="478.77" y="286.05" width="5.80" height="5.80" fill="#fff" stroke="#000" stroke-width="1.4"/>
<rect x="475.15" y="287.15" width="5.80" height="5.80" fill="#fff" stroke="#000" stroke-width="1.4"/>
<rect x="471.54" y="288.15" width="5.80" height="5.80" fill="#fff" stroke="#000" stroke-width="1.4"/>
<rect x="467.92" y="289.01" width="5.80" height="5.80" fill="#fff" stroke="#000" stroke-width="1.4"/>
<rect x="464.30" y="289.80" width="5.80" height="5.80" fill="#fff" stroke="#000" stroke-width="1.4"/>
<rect x="460.69" y="290.48" width="5.80" height="5.80" fill="#fff" stroke="#000" stroke-width="1.4"/>
<rect x="457.07" y="291.19" width="5.80" height="5.80" fill="#fff" stroke="#000" stroke-width="1.4"/>
<rect x="453.46" y="291.78" width="5.80" height="5.80" fill="#fff" stroke="#000" stroke-width="1.4"/>
<rect x="449.84" y="292.29" width="5.80" height="5.80" fill="#fff" stroke="#000" stroke-width="1.4"/>
<path d="M738.40,295.10L742.64,302.45L734.16,302.45Z" fill="#fff" stroke="#f00" stroke-width="1.4" stroke-linejoin="miter"/>
<path d="M734.78,295.10L739.03,302.45L730.54,302.45Z" fill="#fff" stroke="#f00" stroke-width="1.4" stroke-linejoin="miter"/>
<path d="M731.17,295.09L735.41,302.44L726.92,302.44Z" fill="#fff" stroke="#f00" stroke-width="1.4" stroke-linejoin="miter"/>
<path d="M727.55,295.09L731.80,302.44L723.31,302.44Z" fill="#fff" stroke="#f00" stroke-width="1.4" stroke-linejoin="miter"/>
<path d="M723.94,295.08L728.18,302.43L719.69,302.43Z" fill="#fff" stroke="#f00" stroke-width="1.4" stroke-linejoin="miter"/>
<path d="M720.32,295.08L724.56,302.43L716.08,302.43Z" fill="#fff" stroke="#f00" stroke-width="1.4" stroke-linejoin="miter"/>
<path d="M716.70,295.07L720.95,302.42L712.46,302.42Z" fill="#fff" stroke="#f00" stroke-width="1.4" stroke-linejoin="miter"/>
<path d="M713.09,295.07L717.33,302.42L708.84,302.42Z" fill="#fff" stroke="#f00" stroke-width="1.4" stroke-linejoin="miter"/>
<path d="M709.47,295.06L713.72,302.41L705.23,302.41Z" fill="#fff" stroke="#f00" stroke-width="1.4" stroke-linejoin="miter"/>
<path d="M705.86,295.05L710.10,302.40L701.61,302.40Z" fill="#fff" stroke="#f00" stroke-width="1.4" stroke-linejoin="miter"/>
<path d="M702.24,295.05L706.48,302.40L698.00,302.40Z" fill="#fff" stroke="#f00" stroke-width="1.4" stroke-linejoin="miter"/>
<path d="M698.62,295.04L702.87,302.39L694.38,302.39Z" fill="#fff" stroke="#f00" stroke-width="1.4" stroke-linejoin="miter"/>
<path d="M695.01,295.03L699.25,302.38L690.77,302.38Z" fill="#fff" stroke="#f00" stroke-width="1.4" stroke-linejoin="miter"/>
<path d="M691.39,295.02L695.64,302.37L687.15,302.37Z" fill="#fff" stroke="#f00" stroke-width="1.4" stroke-linejoin="miter"/>
<path d="M687.78,295.01L692.02,302.36L683.53,302.36Z" fill="#fff" stroke="#f00" stroke-width="1.4" stroke-linejoin="miter"/>
<path d="M684.16,295.00L688.40,302.35L679.92,302.35Z" fill="#fff" stroke="#f00" stroke-width="1.4" stroke-linejoin="miter"/>
<path d="M680.54,295.00L684.79,302.35L676.30,302.35Z" fill="#fff" stroke="#f00" stroke-width="1.4" stroke-linejoin="miter"/>
<path d="M676.93,294.99L681.17,302.34L672.69,302.34Z" fill="#fff" stroke="#f00" stroke-width="1.4" stroke-linejoin="miter"/>
<path d="M673.31,294.98L677.56,302.33L669.07,302.33Z" fill="#fff" stroke="#f00" stroke-width="1.4" stroke-linejoin="miter"/>
<path d="M669.70,294.97L673.94,302.32L665.45,302.32Z" fill="#fff" stroke="#f00" stroke-width="1.4" stroke-linejoin="miter"/>
<path d="M666.08,294.96L670.32,302.31L661.84,302.31Z" fill="#fff" stroke="#f00" stroke-width="1.4" stroke-linejoin="miter"/>
<path d="M662.47,294.95L666.71,302.30L658.22,302.30Z" fill="#fff" stroke="#f00" stroke-width="1.4" stroke-linejoin="miter"/>
<path d="M658.85,294.94L663.09,302.29L654.61,302.29Z" fill="#fff" stroke="#f00" stroke-width="1.4" stroke-linejoin="miter"/>
<path d="M655.23,294.93L659.48,302.28L650.99,302.28Z" fill="#fff" stroke="#f00" stroke-width="1.4" stroke-linejoin="miter"/>
<path d="M651.62,294.92L655.86,302.27L647.37,302.27Z" fill="#fff" stroke="#f00" stroke-width="1.4" stroke-linejoin="miter"/>
<path d="M648.00,294.91L652.24,302.26L643.76,302.26Z" fill="#fff" stroke="#f00" stroke-width="1.4" stroke-linejoin="miter"/>
<path d="M644.39,294.89L648.63,302.24L640.14,302.24Z" fill="#fff" stroke="#f00" stroke-width="1.4" stroke-linejoin="miter"/>
<path d="M640.77,294.88L645.01,302.23L636.53,302.23Z" fill="#fff" stroke="#f00" stroke-width="1.4" stroke-linejoin="miter"/>
<path d="M637.15,294.86L641.40,302.21L632.91,302.21Z" fill="#fff" stroke="#f00" stroke-width="1.4" stroke-linejoin="miter"/>
<path d="M633.54,294.85L637.78,302.20L629.29,302.20Z" fill="#fff" stroke="#f00" stroke-width="1.4" stroke-linejoin="miter"/>
<path d="M629.92,294.83L634.16,302.18L625.68,302.18Z" fill="#fff" stroke="#f00" stroke-width="1.4" stroke-linejoin="miter"/>
<path d="M626.31,294.81L630.55,302.16L622.06,302.16Z" fill="#fff" stroke="#f00" stroke-width="1.4" stroke-linejoin="miter"/>
<path d="M622.69,294.79L626.93,302.14L618.45,302.14Z" fill="#fff" stroke="#f00" stroke-width="1.4" stroke-linejoin="miter"/>
<path d="M619.07,294.76L623.32,302.11L614.83,302.11Z" fill="#fff" stroke="#f00" stroke-width="1.4" stroke-linejoin="miter"/>
<path d="M615.46,294.74L619.70,302.09L611.21,302.09Z" fill="#fff" stroke="#f00" stroke-width="1.4" stroke-linejoin="miter"/>
<path d="M611.84,294.71L616.09,302.06L607.60,302.06Z" fill="#fff" stroke="#f00" stroke-width="1.4" stroke-linejoin="miter"/>
<path d="M608.23,294.67L612.47,302.02L603.98,302.02Z" fill="#fff" stroke="#f00" stroke-width="1.4" stroke-linejoin="miter"/>
<path d="M604.61,294.62L608.85,301.97L600.37,301.97Z" fill="#fff" stroke="#f00" stroke-width="1.4" stroke-linejoin="miter"/>
<path d="M600.99,294.55L605.24,301.90L596.75,301.90Z" fill="#fff" stroke="#f00" stroke-width="1.4" stroke-linejoin="miter"/>
<path d="M597.38,294.47L601.62,301.82L593.13,301.82Z" fill="#fff" stroke="#f00" stroke-width="1.4" stroke-linejoin="miter"/>
<path d="M593.76,294.37L598.01,301.72L589.52,301.72Z" fill="#fff" stroke="#f00" stroke-width="1.4" stroke-linejoin="miter"/>
<path d="M590.15,294.26L594.39,301.61L585.90,301.61Z" fill="#fff" stroke="#f00" stroke-width="1.4" stroke-linejoin="miter"/>
<path d="M586.53,294.13L590.77,301.48L582.29,301.48Z" fill="#fff" stroke="#f00" stroke-width="1.4" stroke-linejoin="miter"/>
<path d="M582.91,293.98L587.16,301.33L578.67,301.33Z" fill="#fff" stroke="#f00" stroke-width="1.4" stroke-linejoin="miter"/>
<path d="M579.30,293.76L583.54,301.11L575.05,301.11Z" fill="#fff" stroke="#f00" stroke-width="1.4" stroke-linejoin="miter"/>
<path d="M575.68,293.47L579.93,300.82L571.44,300.82Z" fill="#fff" stroke="#f00" stroke-width="1.4" stroke-linejoin="miter"/>
<path d="M572.07,293.13L576.31,300.48L567.82,300.48Z" fill="#fff" stroke="#f00" stroke-width="1.4" stroke-linejoin="miter"/>
<path d="M568.45,292.72L572.69,300.07L564.21,300.07Z" fill="#fff" stroke="#f00" stroke-width="1.4" stroke-linejoin="miter"/>
<path d="M564.83,292.21L569.08,299.56L560.59,299.56Z" fill="#fff" stroke="#f00" stroke-width="1.4" stroke-linejoin="miter"/>
<path d="M561.22,291.45L565.46,298.80L556.98,298.80Z" fill="#fff" stroke="#f00" stroke-width="1.4" stroke-linejoin="miter"/>
<path d="M557.60,290.47L561.85,297.82L553.36,297.82Z" fill="#fff" stroke="#f00" stroke-width="1.4" stroke-linejoin="miter"/>
<path d="M553.99,289.27L558.23,296.62L549.74,296.62Z" fill="#fff" stroke="#f00" stroke-width="1.4" stroke-linejoin="miter"/>
<path d="M550.37,287.63L554.61,294.98L546.13,294.98Z" fill="#fff" stroke="#f00" stroke-width="1.4" stroke-linejoin="miter"/>
<path d="M546.75,285.47L551.00,292.82L542.51,292.82Z" fill="#fff" stroke="#f00" stroke-width="1.4" stroke-linejoin="miter"/>
<path d="M543.14,282.97L547.38,290.32L538.90,290.32Z" fill="#fff" stroke="#f00" stroke-width="1.4" stroke-linejoin="miter"/>
<path d="M539.52,279.75L543.77,287.10L535.28,287.10Z" fill="#fff" stroke="#f00" stroke-width="1.4" stroke-linejoin="miter"/>
<path d="M535.91,275.58L540.15,282.93L531.66,282.93Z" fill="#fff" stroke="#f00" stroke-width="1.4" stroke-linejoin="miter"/>
<path d="M532.29,270.74L536.53,278.09L528.05,278.09Z" fill="#fff" stroke="#f00" stroke-width="1.4" stroke-linejoin="miter"/>
<path d="M528.67,264.02L532.92,271.37L524.43,271.37Z" fill="#fff" stroke="#f00" stroke-width="1.4" stroke-linejoin="miter"/>
<path d="M525.06,257.99L529.30,265.34L520.82,265.34Z" fill="#fff" stroke="#f00" stroke-width="1.4" stroke-linejoin="miter"/>
<path d="M521.44,249.92L525.69,257.27L517.20,257.27Z" fill="#fff" stroke="#f00" stroke-width="1.4" stroke-linejoin="miter"/>
<path d="M517.83,241.19L522.07,248.54L513.58,248.54Z" fill="#fff" stroke="#f00" stroke-width="1.4" stroke-linejoin="miter"/>
<path d="M514.21,231.25L518.45,238.60L509.97,238.60Z" fill="#fff" stroke="#f00" stroke-width="1.4" stroke-linejoin="miter"/>
<path d="M510.60,219.79L514.84,227.14L506.35,227.14Z" fill="#fff" stroke="#f00" stroke-width="1.4" stroke-linejoin="miter"/>
<path d="M506.98,203.17L511.22,210.52L502.74,210.52Z" fill="#fff" stroke="#f00" stroke-width="1.4" stroke-linejoin="miter"/>
<path d="M503.36,188.25L507.61,195.60L499.12,195.60Z" fill="#fff" stroke="#f00" stroke-width="1.4" stroke-linejoin="miter"/>
<path d="M499.75,170.27L503.99,177.62L495.50,177.62Z" fill="#fff" stroke="#f00" stroke-width="1.4" stroke-linejoin="miter"/>
<path d="M496.13,151.62L500.37,158.97L491.89,158.97Z" fill="#fff" stroke="#f00" stroke-width="1.4" stroke-linejoin="miter"/>
<path d="M492.52,133.25L496.76,140.60L488.27,140.60Z" fill="#fff" stroke="#f00" stroke-width="1.4" stroke-linejoin="miter"/>
<path d="M488.90,116.06L493.14,123.41L484.66,123.41Z" fill="#fff" stroke="#f00" stroke-width="1.4" stroke-linejoin="miter"/>
<path d="M485.28,98.49L489.53,105.84L481.04,105.84Z" fill="#fff" stroke="#f00" stroke-width="1.4" stroke-linejoin="miter"/>
<path d="M481.67,84.72L485.91,92.07L477.42,92.07Z" fill="#fff" stroke="#f00" stroke-width="1.4" stroke-linejoin="miter"/>
<path d="M478.05,74.47L482.30,81.82L473.81,81.82Z" fill="#fff" stroke="#f00" stroke-width="1.4" stroke-linejoin="miter"/>
<path d="M474.44,67.11L478.68,74.46L470.19,74.46Z" fill="#fff" stroke="#f00" stroke-width="1.4" stroke-linejoin="miter"/>
<path d="M470.82,67.06L475.06,74.41L466.58,74.41Z" fill="#fff" stroke="#f00" stroke-width="1.4" stroke-linejoin="miter"/>
<path d="M467.20,73.49L471.45,80.84L462.96,80.84Z" fill="#fff" stroke="#f00" stroke-width="1.4" stroke-linejoin="miter"/>
<path d="M463.59,83.33L467.83,90.68L459.34,90.68Z" fill="#fff" stroke="#f00" stroke-width="1.4" stroke-linejoin="miter"/>
<path d="M459.97,96.61L464.22,103.96L455.73,103.96Z" fill="#fff" stroke="#f00" stroke-width="1.4" stroke-linejoin="miter"/>
<path d="M456.36,113.72L460.60,121.07L452.11,121.07Z" fill="#fff" stroke="#f00" stroke-width="1.4" stroke-linejoin="miter"/>
<path d="M452.74,133.22L456.98,140.57L448.50,140.57Z" fill="#fff" stroke="#f00" stroke-width="1.4" stroke-linejoin="miter"/>
<path d="M421.00,24.30H747.90V302.50" stroke="#000" stroke-width="1.5" fill="none"/>
</g>
<rect x="549.4" y="69.9" width="186.9" height="191.7" fill="#fff"/>
<g stroke="#000" stroke-width="0.3">
<line x1="547.10" y1="261.60" x2="736.30" y2="261.60" stroke="#000" stroke-width="1.1"/>
<line x1="549.40" y1="69.90" x2="549.40" y2="263.90" stroke="#000" stroke-width="1.1"/>
<path d="M549.40,261.60v2.30M554.85,261.60v1.30M558.04,261.60v1.30M560.30,261.60v1.30M562.06,261.60v1.30M563.49,261.60v1.30M564.70,261.60v1.30M565.75,261.60v1.30M566.68,261.60v1.30M567.51,261.60v2.30M572.96,261.60v1.30M576.15,261.60v1.30M578.41,261.60v1.30M580.17,261.60v1.30M581.60,261.60v1.30M582.81,261.60v1.30M583.86,261.60v1.30M584.79,261.60v1.30M585.62,261.60v2.30M591.07,261.60v1.30M594.26,261.60v1.30M596.52,261.60v1.30M598.28,261.60v1.30M599.71,261.60v1.30M600.92,261.60v1.30M601.97,261.60v1.30M602.90,261.60v1.30M603.73,261.60v2.30M609.18,261.60v1.30M612.37,261.60v1.30M614.63,261.60v1.30M616.39,261.60v1.30M617.82,261.60v1.30M619.03,261.60v1.30M620.08,261.60v1.30M621.01,261.60v1.30M621.84,261.60v2.30M627.29,261.60v1.30M630.48,261.60v1.30M632.74,261.60v1.30M634.50,261.60v1.30M635.93,261.60v1.30M637.14,261.60v1.30M638.19,261.60v1.30M639.12,261.60v1.30M639.95,261.60v2.30M645.40,261.60v1.30M648.59,261.60v1.30M650.85,261.60v1.30M652.61,261.60v1.30M654.04,261.60v1.30M655.25,261.60v1.30M656.30,261.60v1.30M657.23,261.60v1.30M658.06,261.60v2.30M663.51,261.60v1.30M666.70,261.60v1.30M668.96,261.60v1.30M670.72,261.60v1.30M672.15,261.60v1.30M673.36,261.60v1.30M674.41,261.60v1.30M675.34,261.60v1.30M676.17,261.60v2.30M681.62,261.60v1.30M684.81,261.60v1.30M687.07,261.60v1.30M688.83,261.60v1.30M690.26,261.60v1.30M691.47,261.60v1.30M692.52,261.60v1.30M693.45,261.60v1.30M694.28,261.60v2.30M699.73,261.60v1.30M702.92,261.60v1.30M705.18,261.60v1.30M706.94,261.60v1.30M708.37,261.60v1.30M709.58,261.60v1.30M710.63,261.60v1.30M711.56,261.60v1.30M712.39,261.60v2.30M717.84,261.60v1.30M721.03,261.60v1.30M723.29,261.60v1.30M725.05,261.60v1.30M726.48,261.60v1.30M727.69,261.60v1.30M728.74,261.60v1.30M729.67,261.60v1.30M730.50,261.60v2.30M735.95,261.60v1.30" stroke="#000" stroke-width="0.9" fill="none"/>
<path d="M549.40,251.40h-2.30M549.40,231.23h-2.30M549.40,211.07h-2.30M549.40,190.90h-2.30M549.40,170.73h-2.30M549.40,150.57h-2.30M549.40,130.40h-2.30M549.40,110.23h-2.30M549.40,90.07h-2.30M549.40,69.90h-2.30M549.40,241.32h-1.30M549.40,221.15h-1.30M549.40,200.98h-1.30M549.40,180.82h-1.30M549.40,160.65h-1.30M549.40,140.48h-1.30M549.40,120.32h-1.30M549.40,100.15h-1.30M549.40,79.98h-1.30" stroke="#000" stroke-width="0.9" fill="none"/>
<text x="545.30" y="254.10" font-size="7.5" text-anchor="end" font-weight="normal" >0</text>
<text x="545.30" y="233.93" font-size="7.5" text-anchor="end" font-weight="normal" >2</text>
<text x="545.30" y="213.77" font-size="7.5" text-anchor="end" font-weight="normal" >4</text>
<text x="545.30" y="193.60" font-size="7.5" text-anchor="end" font-weight="normal" >6</text>
<text x="545.30" y="173.43" font-size="7.5" text-anchor="end" font-weight="normal" >8</text>
<text x="545.30" y="153.27" font-size="7.5" text-anchor="end" font-weight="normal" >10</text>
<text x="545.30" y="133.10" font-size="7.5" text-anchor="end" font-weight="normal" >12</text>
<text x="545.30" y="112.93" font-size="7.5" text-anchor="end" font-weight="normal" >14</text>
<text x="545.30" y="92.77" font-size="7.5" text-anchor="end" font-weight="normal" >16</text>
<text x="545.30" y="72.60" font-size="7.5" text-anchor="end" font-weight="normal" >18</text>
<text x="550.10" y="273.80" font-size="7.5" text-anchor="middle">10<tspan dy="-3.2" font-size="5.5">-3</tspan></text>
<text x="568.21" y="273.80" font-size="7.5" text-anchor="middle">10<tspan dy="-3.2" font-size="5.5">-2</tspan></text>
<text x="586.32" y="273.80" font-size="7.5" text-anchor="middle">10<tspan dy="-3.2" font-size="5.5">-1</tspan></text>
<text x="604.43" y="273.80" font-size="7.5" text-anchor="middle">10<tspan dy="-3.2" font-size="5.5">0</tspan></text>
<text x="622.54" y="273.80" font-size="7.5" text-anchor="middle">10<tspan dy="-3.2" font-size="5.5">1</tspan></text>
<text x="640.65" y="273.80" font-size="7.5" text-anchor="middle">10<tspan dy="-3.2" font-size="5.5">2</tspan></text>
<text x="658.76" y="273.80" font-size="7.5" text-anchor="middle">10<tspan dy="-3.2" font-size="5.5">3</tspan></text>
<text x="676.87" y="273.80" font-size="7.5" text-anchor="middle">10<tspan dy="-3.2" font-size="5.5">4</tspan></text>
<text x="694.98" y="273.80" font-size="7.5" text-anchor="middle">10<tspan dy="-3.2" font-size="5.5">5</tspan></text>
<text x="713.09" y="273.80" font-size="7.5" text-anchor="middle">10<tspan dy="-3.2" font-size="5.5">6</tspan></text>
<text x="731.20" y="273.80" font-size="7.5" text-anchor="middle">10<tspan dy="-3.2" font-size="5.5">7</tspan></text>
</g>
<rect x="728.55" y="249.45" width="3.90" height="3.90" fill="#fff" stroke="#000" stroke-width="0.95"/>
<rect x="726.49" y="249.45" width="3.90" height="3.90" fill="#fff" stroke="#000" stroke-width="0.95"/>
<rect x="724.42" y="249.45" width="3.90" height="3.90" fill="#fff" stroke="#000" stroke-width="0.95"/>
<rect x="722.36" y="249.45" width="3.90" height="3.90" fill="#fff" stroke="#000" stroke-width="0.95"/>
<rect x="720.30" y="249.45" width="3.90" height="3.90" fill="#fff" stroke="#000" stroke-width="0.95"/>
<rect x="718.23" y="249.44" width="3.90" height="3.90" fill="#fff" stroke="#000" stroke-width="0.95"/>
<rect x="716.17" y="249.44" width="3.90" height="3.90" fill="#fff" stroke="#000" stroke-width="0.95"/>
<rect x="714.11" y="249.44" width="3.90" height="3.90" fill="#fff" stroke="#000" stroke-width="0.95"/>
<rect x="712.04" y="249.44" width="3.90" height="3.90" fill="#fff" stroke="#000" stroke-width="0.95"/>
<rect x="709.98" y="249.43" width="3.90" height="3.90" fill="#fff" stroke="#000" stroke-width="0.95"/>
<rect x="707.92" y="249.43" width="3.90" height="3.90" fill="#fff" stroke="#000" stroke-width="0.95"/>
<rect x="705.86" y="249.43" width="3.90" height="3.90" fill="#fff" stroke="#000" stroke-width="0.95"/>
<rect x="703.79" y="249.42" width="3.90" height="3.90" fill="#fff" stroke="#000" stroke-width="0.95"/>
<rect x="701.73" y="249.42" width="3.90" height="3.90" fill="#fff" stroke="#000" stroke-width="0.95"/>
<rect x="699.67" y="249.41" width="3.90" height="3.90" fill="#fff" stroke="#000" stroke-width="0.95"/>
<rect x="697.60" y="249.41" width="3.90" height="3.90" fill="#fff" stroke="#000" stroke-width="0.95"/>
<rect x="695.54" y="249.41" width="3.90" height="3.90" fill="#fff" stroke="#000" stroke-width="0.95"/>
<rect x="693.48" y="249.40" width="3.90" height="3.90" fill="#fff" stroke="#000" stroke-width="0.95"/>
<rect x="691.41" y="249.40" width="3.90" height="3.90" fill="#fff" stroke="#000" stroke-width="0.95"/>
<rect x="689.35" y="249.39" width="3.90" height="3.90" fill="#fff" stroke="#000" stroke-width="0.95"/>
<rect x="687.29" y="249.39" width="3.90" height="3.90" fill="#fff" stroke="#000" stroke-width="0.95"/>
<rect x="685.22" y="249.38" width="3.90" height="3.90" fill="#fff" stroke="#000" stroke-width="0.95"/>
<rect x="683.16" y="249.37" width="3.90" height="3.90" fill="#fff" stroke="#000" stroke-width="0.95"/>
<rect x="681.10" y="249.37" width="3.90" height="3.90" fill="#fff" stroke="#000" stroke-width="0.95"/>
<rect x="679.03" y="249.36" width="3.90" height="3.90" fill="#fff" stroke="#000" stroke-width="0.95"/>
<rect x="676.97" y="249.36" width="3.90" height="3.90" fill="#fff" stroke="#000" stroke-width="0.95"/>
<rect x="674.91" y="249.35" width="3.90" height="3.90" fill="#fff" stroke="#000" stroke-width="0.95"/>
<rect x="672.84" y="249.35" width="3.90" height="3.90" fill="#fff" stroke="#000" stroke-width="0.95"/>
<rect x="670.78" y="249.34" width="3.90" height="3.90" fill="#fff" stroke="#000" stroke-width="0.95"/>
<rect x="668.72" y="249.33" width="3.90" height="3.90" fill="#fff" stroke="#000" stroke-width="0.95"/>
<rect x="666.66" y="249.32" width="3.90" height="3.90" fill="#fff" stroke="#000" stroke-width="0.95"/>
<rect x="664.59" y="249.32" width="3.90" height="3.90" fill="#fff" stroke="#000" stroke-width="0.95"/>
<rect x="662.53" y="249.31" width="3.90" height="3.90" fill="#fff" stroke="#000" stroke-width="0.95"/>
<rect x="660.47" y="249.30" width="3.90" height="3.90" fill="#fff" stroke="#000" stroke-width="0.95"/>
<rect x="658.40" y="249.29" width="3.90" height="3.90" fill="#fff" stroke="#000" stroke-width="0.95"/>
<rect x="656.34" y="249.27" width="3.90" height="3.90" fill="#fff" stroke="#000" stroke-width="0.95"/>
<rect x="654.28" y="249.26" width="3.90" height="3.90" fill="#fff" stroke="#000" stroke-width="0.95"/>
<rect x="652.21" y="249.24" width="3.90" height="3.90" fill="#fff" stroke="#000" stroke-width="0.95"/>
<rect x="650.15" y="249.23" width="3.90" height="3.90" fill="#fff" stroke="#000" stroke-width="0.95"/>
<rect x="648.09" y="249.21" width="3.90" height="3.90" fill="#fff" stroke="#000" stroke-width="0.95"/>
<rect x="646.02" y="249.19" width="3.90" height="3.90" fill="#fff" stroke="#000" stroke-width="0.95"/>
<rect x="643.96" y="249.15" width="3.90" height="3.90" fill="#fff" stroke="#000" stroke-width="0.95"/>
<rect x="641.90" y="249.11" width="3.90" height="3.90" fill="#fff" stroke="#000" stroke-width="0.95"/>
<rect x="639.83" y="249.05" width="3.90" height="3.90" fill="#fff" stroke="#000" stroke-width="0.95"/>
<rect x="637.77" y="248.98" width="3.90" height="3.90" fill="#fff" stroke="#000" stroke-width="0.95"/>
<rect x="635.71" y="248.90" width="3.90" height="3.90" fill="#fff" stroke="#000" stroke-width="0.95"/>
<rect x="633.64" y="248.81" width="3.90" height="3.90" fill="#fff" stroke="#000" stroke-width="0.95"/>
<rect x="631.58" y="248.66" width="3.90" height="3.90" fill="#fff" stroke="#000" stroke-width="0.95"/>
<rect x="629.52" y="248.46" width="3.90" height="3.90" fill="#fff" stroke="#000" stroke-width="0.95"/>
<rect x="627.45" y="248.19" width="3.90" height="3.90" fill="#fff" stroke="#000" stroke-width="0.95"/>
<rect x="625.39" y="247.85" width="3.90" height="3.90" fill="#fff" stroke="#000" stroke-width="0.95"/>
<rect x="623.33" y="247.34" width="3.90" height="3.90" fill="#fff" stroke="#000" stroke-width="0.95"/>
<rect x="621.27" y="246.47" width="3.90" height="3.90" fill="#fff" stroke="#000" stroke-width="0.95"/>
<rect x="619.20" y="245.34" width="3.90" height="3.90" fill="#fff" stroke="#000" stroke-width="0.95"/>
<rect x="617.14" y="243.87" width="3.90" height="3.90" fill="#fff" stroke="#000" stroke-width="0.95"/>
<rect x="615.08" y="241.89" width="3.90" height="3.90" fill="#fff" stroke="#000" stroke-width="0.95"/>
<rect x="613.01" y="239.17" width="3.90" height="3.90" fill="#fff" stroke="#000" stroke-width="0.95"/>
<rect x="610.95" y="235.35" width="3.90" height="3.90" fill="#fff" stroke="#000" stroke-width="0.95"/>
<rect x="608.89" y="230.42" width="3.90" height="3.90" fill="#fff" stroke="#000" stroke-width="0.95"/>
<rect x="606.82" y="223.95" width="3.90" height="3.90" fill="#fff" stroke="#000" stroke-width="0.95"/>
<rect x="604.76" y="215.43" width="3.90" height="3.90" fill="#fff" stroke="#000" stroke-width="0.95"/>
<rect x="602.70" y="205.65" width="3.90" height="3.90" fill="#fff" stroke="#000" stroke-width="0.95"/>
<rect x="600.63" y="194.47" width="3.90" height="3.90" fill="#fff" stroke="#000" stroke-width="0.95"/>
<rect x="598.57" y="180.86" width="3.90" height="3.90" fill="#fff" stroke="#000" stroke-width="0.95"/>
<rect x="596.51" y="169.47" width="3.90" height="3.90" fill="#fff" stroke="#000" stroke-width="0.95"/>
<rect x="594.44" y="157.99" width="3.90" height="3.90" fill="#fff" stroke="#000" stroke-width="0.95"/>
<rect x="592.38" y="146.67" width="3.90" height="3.90" fill="#fff" stroke="#000" stroke-width="0.95"/>
<rect x="590.32" y="136.23" width="3.90" height="3.90" fill="#fff" stroke="#000" stroke-width="0.95"/>
<rect x="588.25" y="129.62" width="3.90" height="3.90" fill="#fff" stroke="#000" stroke-width="0.95"/>
<rect x="586.19" y="124.06" width="3.90" height="3.90" fill="#fff" stroke="#000" stroke-width="0.95"/>
<rect x="584.13" y="119.46" width="3.90" height="3.90" fill="#fff" stroke="#000" stroke-width="0.95"/>
<rect x="582.07" y="115.43" width="3.90" height="3.90" fill="#fff" stroke="#000" stroke-width="0.95"/>
<rect x="580.00" y="111.38" width="3.90" height="3.90" fill="#fff" stroke="#000" stroke-width="0.95"/>
<rect x="577.94" y="108.32" width="3.90" height="3.90" fill="#fff" stroke="#000" stroke-width="0.95"/>
<rect x="575.88" y="105.30" width="3.90" height="3.90" fill="#fff" stroke="#000" stroke-width="0.95"/>
<rect x="573.81" y="102.28" width="3.90" height="3.90" fill="#fff" stroke="#000" stroke-width="0.95"/>
<rect x="571.75" y="99.23" width="3.90" height="3.90" fill="#fff" stroke="#000" stroke-width="0.95"/>
<rect x="569.69" y="96.20" width="3.90" height="3.90" fill="#fff" stroke="#000" stroke-width="0.95"/>
<rect x="567.62" y="93.69" width="3.90" height="3.90" fill="#fff" stroke="#000" stroke-width="0.95"/>
<rect x="565.56" y="88.12" width="3.90" height="3.90" fill="#fff" stroke="#000" stroke-width="0.95"/>
<rect x="728.55" y="249.45" width="3.90" height="3.90" fill="#fff" stroke="#000" stroke-width="0.95"/>
<rect x="726.49" y="249.45" width="3.90" height="3.90" fill="#fff" stroke="#000" stroke-width="0.95"/>
<rect x="724.42" y="249.45" width="3.90" height="3.90" fill="#fff" stroke="#000" stroke-width="0.95"/>
<rect x="722.36" y="249.45" width="3.90" height="3.90" fill="#fff" stroke="#000" stroke-width="0.95"/>
<rect x="720.30" y="249.45" width="3.90" height="3.90" fill="#fff" stroke="#000" stroke-width="0.95"/>
<rect x="718.23" y="249.45" width="3.90" height="3.90" fill="#fff" stroke="#000" stroke-width="0.95"/>
<rect x="716.17" y="249.45" width="3.90" height="3.90" fill="#fff" stroke="#000" stroke-width="0.95"/>
<rect x="714.11" y="249.45" width="3.90" height="3.90" fill="#fff" stroke="#000" stroke-width="0.95"/>
<rect x="712.04" y="249.45" width="3.90" height="3.90" fill="#fff" stroke="#000" stroke-width="0.95"/>
<rect x="709.98" y="249.45" width="3.90" height="3.90" fill="#fff" stroke="#000" stroke-width="0.95"/>
<rect x="707.92" y="249.45" width="3.90" height="3.90" fill="#fff" stroke="#000" stroke-width="0.95"/>
<rect x="705.86" y="249.45" width="3.90" height="3.90" fill="#fff" stroke="#000" stroke-width="0.95"/>
<rect x="703.79" y="249.45" width="3.90" height="3.90" fill="#fff" stroke="#000" stroke-width="0.95"/>
<rect x="701.73" y="249.45" width="3.90" height="3.90" fill="#fff" stroke="#000" stroke-width="0.95"/>
<rect x="699.67" y="249.45" width="3.90" height="3.90" fill="#fff" stroke="#000" stroke-width="0.95"/>
<rect x="697.60" y="249.45" width="3.90" height="3.90" fill="#fff" stroke="#000" stroke-width="0.95"/>
<rect x="695.54" y="249.44" width="3.90" height="3.90" fill="#fff" stroke="#000" stroke-width="0.95"/>
<rect x="693.48" y="249.44" width="3.90" height="3.90" fill="#fff" stroke="#000" stroke-width="0.95"/>
<rect x="691.41" y="249.44" width="3.90" height="3.90" fill="#fff" stroke="#000" stroke-width="0.95"/>
<rect x="689.35" y="249.44" width="3.90" height="3.90" fill="#fff" stroke="#000" stroke-width="0.95"/>
<rect x="687.29" y="249.44" width="3.90" height="3.90" fill="#fff" stroke="#000" stroke-width="0.95"/>
<rect x="685.22" y="249.43" width="3.90" height="3.90" fill="#fff" stroke="#000" stroke-width="0.95"/>
<rect x="683.16" y="249.43" width="3.90" height="3.90" fill="#fff" stroke="#000" stroke-width="0.95"/>
<rect x="681.10" y="249.43" width="3.90" height="3.90" fill="#fff" stroke="#000" stroke-width="0.95"/>
<rect x="679.03" y="249.42" width="3.90" height="3.90" fill="#fff" stroke="#000" stroke-width="0.95"/>
<rect x="676.97" y="249.41" width="3.90" height="3.90" fill="#fff" stroke="#000" stroke-width="0.95"/>
<rect x="674.91" y="249.40" width="3.90" height="3.90" fill="#fff" stroke="#000" stroke-width="0.95"/>
<rect x="672.84" y="249.39" width="3.90" height="3.90" fill="#fff" stroke="#000" stroke-width="0.95"/>
<rect x="670.78" y="249.38" width="3.90" height="3.90" fill="#fff" stroke="#000" stroke-width="0.95"/>
<rect x="668.72" y="249.36" width="3.90" height="3.90" fill="#fff" stroke="#000" stroke-width="0.95"/>
<rect x="666.66" y="249.34" width="3.90" height="3.90" fill="#fff" stroke="#000" stroke-width="0.95"/>
<rect x="664.59" y="249.32" width="3.90" height="3.90" fill="#fff" stroke="#000" stroke-width="0.95"/>
<rect x="662.53" y="249.28" width="3.90" height="3.90" fill="#fff" stroke="#000" stroke-width="0.95"/>
<rect x="660.47" y="249.25" width="3.90" height="3.90" fill="#fff" stroke="#000" stroke-width="0.95"/>
<rect x="658.40" y="249.20" width="3.90" height="3.90" fill="#fff" stroke="#000" stroke-width="0.95"/>
<rect x="656.34" y="249.14" width="3.90" height="3.90" fill="#fff" stroke="#000" stroke-width="0.95"/>
<rect x="654.28" y="249.06" width="3.90" height="3.90" fill="#fff" stroke="#000" stroke-width="0.95"/>
<rect x="652.21" y="248.97" width="3.90" height="3.90" fill="#fff" stroke="#000" stroke-width="0.95"/>
<rect x="650.15" y="248.86" width="3.90" height="3.90" fill="#fff" stroke="#000" stroke-width="0.95"/>
<rect x="648.09" y="248.72" width="3.90" height="3.90" fill="#fff" stroke="#000" stroke-width="0.95"/>
<rect x="646.02" y="248.54" width="3.90" height="3.90" fill="#fff" stroke="#000" stroke-width="0.95"/>
<rect x="643.96" y="248.33" width="3.90" height="3.90" fill="#fff" stroke="#000" stroke-width="0.95"/>
<rect x="641.90" y="248.06" width="3.90" height="3.90" fill="#fff" stroke="#000" stroke-width="0.95"/>
<rect x="639.83" y="247.73" width="3.90" height="3.90" fill="#fff" stroke="#000" stroke-width="0.95"/>
<rect x="637.77" y="247.32" width="3.90" height="3.90" fill="#fff" stroke="#000" stroke-width="0.95"/>
<rect x="635.71" y="246.82" width="3.90" height="3.90" fill="#fff" stroke="#000" stroke-width="0.95"/>
<rect x="633.64" y="246.21" width="3.90" height="3.90" fill="#fff" stroke="#000" stroke-width="0.95"/>
<rect x="631.58" y="245.45" width="3.90" height="3.90" fill="#fff" stroke="#000" stroke-width="0.95"/>
<rect x="629.52" y="244.52" width="3.90" height="3.90" fill="#fff" stroke="#000" stroke-width="0.95"/>
<rect x="627.45" y="243.37" width="3.90" height="3.90" fill="#fff" stroke="#000" stroke-width="0.95"/>
<rect x="625.39" y="241.98" width="3.90" height="3.90" fill="#fff" stroke="#000" stroke-width="0.95"/>
<rect x="623.33" y="240.28" width="3.90" height="3.90" fill="#fff" stroke="#000" stroke-width="0.95"/>
<rect x="621.27" y="238.22" width="3.90" height="3.90" fill="#fff" stroke="#000" stroke-width="0.95"/>
<rect x="619.20" y="235.74" width="3.90" height="3.90" fill="#fff" stroke="#000" stroke-width="0.95"/>
<rect x="617.14" y="232.79" width="3.90" height="3.90" fill="#fff" stroke="#000" stroke-width="0.95"/>
<rect x="615.08" y="229.31" width="3.90" height="3.90" fill="#fff" stroke="#000" stroke-width="0.95"/>
<rect x="613.01" y="225.28" width="3.90" height="3.90" fill="#fff" stroke="#000" stroke-width="0.95"/>
<rect x="610.95" y="220.73" width="3.90" height="3.90" fill="#fff" stroke="#000" stroke-width="0.95"/>
<rect x="608.89" y="215.73" width="3.90" height="3.90" fill="#fff" stroke="#000" stroke-width="0.95"/>
<rect x="606.82" y="210.51" width="3.90" height="3.90" fill="#fff" stroke="#000" stroke-width="0.95"/>
<rect x="604.76" y="205.39" width="3.90" height="3.90" fill="#fff" stroke="#000" stroke-width="0.95"/>
<rect x="602.70" y="200.83" width="3.90" height="3.90" fill="#fff" stroke="#000" stroke-width="0.95"/>
<rect x="600.63" y="197.35" width="3.90" height="3.90" fill="#fff" stroke="#000" stroke-width="0.95"/>
<rect x="598.57" y="195.46" width="3.90" height="3.90" fill="#fff" stroke="#000" stroke-width="0.95"/>
<rect x="596.51" y="195.36" width="3.90" height="3.90" fill="#fff" stroke="#000" stroke-width="0.95"/>
<rect x="594.44" y="197.44" width="3.90" height="3.90" fill="#fff" stroke="#000" stroke-width="0.95"/>
<rect x="592.38" y="200.42" width="3.90" height="3.90" fill="#fff" stroke="#000" stroke-width="0.95"/>
<rect x="590.32" y="204.96" width="3.90" height="3.90" fill="#fff" stroke="#000" stroke-width="0.95"/>
<rect x="588.25" y="209.50" width="3.90" height="3.90" fill="#fff" stroke="#000" stroke-width="0.95"/>
<rect x="586.19" y="213.54" width="3.90" height="3.90" fill="#fff" stroke="#000" stroke-width="0.95"/>
<rect x="584.13" y="217.41" width="3.90" height="3.90" fill="#fff" stroke="#000" stroke-width="0.95"/>
<rect x="582.07" y="221.15" width="3.90" height="3.90" fill="#fff" stroke="#000" stroke-width="0.95"/>
<rect x="580.00" y="223.98" width="3.90" height="3.90" fill="#fff" stroke="#000" stroke-width="0.95"/>
<rect x="577.94" y="226.53" width="3.90" height="3.90" fill="#fff" stroke="#000" stroke-width="0.95"/>
<rect x="575.88" y="228.75" width="3.90" height="3.90" fill="#fff" stroke="#000" stroke-width="0.95"/>
<rect x="573.81" y="230.77" width="3.90" height="3.90" fill="#fff" stroke="#000" stroke-width="0.95"/>
<rect x="571.75" y="232.50" width="3.90" height="3.90" fill="#fff" stroke="#000" stroke-width="0.95"/>
<rect x="569.69" y="234.31" width="3.90" height="3.90" fill="#fff" stroke="#000" stroke-width="0.95"/>
<rect x="567.62" y="235.83" width="3.90" height="3.90" fill="#fff" stroke="#000" stroke-width="0.95"/>
<rect x="565.56" y="237.15" width="3.90" height="3.90" fill="#fff" stroke="#000" stroke-width="0.95"/>
<path d="M567.51,90.07L568.24,92.43L568.97,94.41L569.69,95.84L570.42,96.78L571.15,97.57L571.88,98.48L572.61,99.54L573.33,100.64L574.06,101.71L574.79,102.79L575.52,103.87L576.25,104.94L576.97,106.01L577.70,107.07L578.43,108.14L579.16,109.20L579.89,110.27L580.61,111.31L581.34,112.36L582.07,113.54L582.80,114.92L583.53,116.40L584.25,117.84L584.98,119.24L585.71,120.66L586.44,122.17L587.17,123.74L587.90,125.41L588.62,127.21L589.35,129.15L590.08,131.21L590.81,133.32L591.54,135.56L592.26,138.16L592.99,141.50L593.72,145.36L594.45,149.23L595.18,153.18L595.90,157.22L596.63,161.25L597.36,165.31L598.09,169.37L598.82,173.38L599.54,177.28L600.27,181.33L601.00,185.91L601.73,190.96L602.46,195.66L603.18,199.86L603.91,203.80L604.64,207.57L605.37,211.16L606.10,214.59L606.82,217.90L607.55,221.11L608.28,224.08L609.01,226.73L609.74,229.14L610.46,231.33L611.19,233.32L611.92,235.13L612.65,236.77L613.38,238.28L614.10,239.68L614.83,240.92L615.56,242.00L616.29,242.97L617.02,243.83L617.74,244.58L618.47,245.28L619.20,245.92L619.93,246.49L620.66,247.00L621.38,247.43L622.11,247.84L622.84,248.23L623.57,248.59L624.30,248.92L625.03,249.20L625.75,249.45L626.48,249.63L627.21,249.78L627.94,249.90L628.67,250.03L629.39,250.14L630.12,250.24L630.85,250.33L631.58,250.42L632.31,250.50L633.03,250.57L633.76,250.63L634.49,250.69L635.22,250.74L635.95,250.78L636.67,250.81L637.40,250.84L638.13,250.87L638.86,250.90L639.59,250.93L640.31,250.96L641.04,250.98L641.77,251.00L642.50,251.02L643.23,251.04L643.95,251.06L644.68,251.08L645.41,251.09L646.14,251.11L646.87,251.12L647.59,251.13L648.32,251.14L649.05,251.15L649.78,251.16L650.51,251.16L651.23,251.17L651.96,251.18L652.69,251.18L653.42,251.19L654.15,251.19L654.87,251.20L655.60,251.21L656.33,251.21L657.06,251.22L657.79,251.22L658.52,251.22L659.24,251.23L659.97,251.23L660.70,251.24L661.43,251.24L662.16,251.25L662.88,251.25L663.61,251.25L664.34,251.26L665.07,251.26L665.80,251.26L666.52,251.27L667.25,251.27L667.98,251.27L668.71,251.27L669.44,251.28L670.16,251.28L670.89,251.28L671.62,251.29L672.35,251.29L673.08,251.29L673.80,251.29L674.53,251.29L675.26,251.30L675.99,251.30L676.72,251.30L677.44,251.30L678.17,251.30L678.90,251.31L679.63,251.31L680.36,251.31L681.08,251.31L681.81,251.32L682.54,251.32L683.27,251.32L684.00,251.32L684.72,251.32L685.45,251.33L686.18,251.33L686.91,251.33L687.64,251.33L688.36,251.33L689.09,251.33L689.82,251.34L690.55,251.34L691.28,251.34L692.00,251.34L692.73,251.34L693.46,251.35L694.19,251.35L694.92,251.35L695.65,251.35L696.37,251.35L697.10,251.35L697.83,251.36L698.56,251.36L699.29,251.36L700.01,251.36L700.74,251.36L701.47,251.36L702.20,251.37L702.93,251.37L703.65,251.37L704.38,251.37L705.11,251.37L705.84,251.37L706.57,251.37L707.29,251.38L708.02,251.38L708.75,251.38L709.48,251.38L710.21,251.38L710.93,251.38L711.66,251.38L712.39,251.38" stroke="#f00" stroke-width="1.2" fill="none"/>
<path d="M567.51,239.10L568.24,238.65L568.97,238.18L569.69,237.69L570.42,237.18L571.15,236.64L571.88,236.06L572.61,235.43L573.33,234.77L574.06,234.14L574.79,233.55L575.52,232.94L576.25,232.27L576.97,231.56L577.70,230.83L578.43,230.07L579.16,229.30L579.89,228.48L580.61,227.62L581.34,226.71L582.07,225.78L582.80,224.83L583.53,223.83L584.25,222.71L584.98,221.41L585.71,220.04L586.44,218.69L587.17,217.34L587.90,215.96L588.62,214.57L589.35,213.17L590.08,211.71L590.81,210.16L591.54,208.54L592.26,206.92L592.99,205.23L593.72,203.56L594.45,202.17L595.18,200.98L595.90,199.96L596.63,199.13L597.36,198.30L598.09,197.58L598.82,197.13L599.54,197.09L600.27,197.31L601.00,197.64L601.73,198.23L602.46,199.13L603.18,200.14L603.91,201.38L604.64,202.76L605.37,204.27L606.10,205.91L606.82,207.61L607.55,209.40L608.28,211.22L609.01,213.06L609.74,214.92L610.46,216.75L611.19,218.57L611.92,220.35L612.65,222.09L613.38,223.77L614.10,225.39L614.83,226.96L615.56,228.45L616.29,229.88L617.02,231.24L617.74,232.53L618.47,233.76L619.20,234.91L619.93,236.00L620.66,237.03L621.38,237.99L622.11,238.90L622.84,239.75L623.57,240.55L624.30,241.30L625.03,242.00L625.75,242.65L626.48,243.26L627.21,243.83L627.94,244.36L628.67,244.86L629.39,245.32L630.12,245.75L630.85,246.15L631.58,246.52L632.31,246.87L633.03,247.19L633.76,247.49L634.49,247.77L635.22,248.03L635.95,248.27L636.67,248.50L637.40,248.70L638.13,248.90L638.86,249.08L639.59,249.25L640.31,249.40L641.04,249.54L641.77,249.68L642.50,249.80L643.23,249.92L643.95,250.03L644.68,250.12L645.41,250.22L646.14,250.30L646.87,250.38L647.59,250.46L648.32,250.52L649.05,250.59L649.78,250.65L650.51,250.70L651.23,250.75L651.96,250.80L652.69,250.84L653.42,250.88L654.15,250.92L654.87,250.95L655.60,250.99L656.33,251.02L657.06,251.04L657.79,251.07L658.52,251.09L659.24,251.12L659.97,251.14L660.70,251.16L661.43,251.17L662.16,251.19L662.88,251.21L663.61,251.22L664.34,251.23L665.07,251.24L665.80,251.26L666.52,251.27L667.25,251.28L667.98,251.29L668.71,251.29L669.44,251.30L670.16,251.31L670.89,251.31L671.62,251.32L672.35,251.33L673.08,251.33L673.80,251.34L674.53,251.34L675.26,251.35L675.99,251.35L676.72,251.35L677.44,251.36L678.17,251.36L678.90,251.36L679.63,251.37L680.36,251.37L681.08,251.37L681.81,251.37L682.54,251.37L683.27,251.38L684.00,251.38L684.72,251.38L685.45,251.38L686.18,251.38L686.91,251.38L687.64,251.38L688.36,251.39L689.09,251.39L689.82,251.39L690.55,251.39L691.28,251.39L692.00,251.39L692.73,251.39L693.46,251.39L694.19,251.39L694.92,251.39L695.65,251.39L696.37,251.39L697.10,251.39L697.83,251.39L698.56,251.40L699.29,251.40L700.01,251.40L700.74,251.40L701.47,251.40L702.20,251.40L702.93,251.40L703.65,251.40L704.38,251.40L705.11,251.40L705.84,251.40L706.57,251.40L707.29,251.40L708.02,251.40L708.75,251.40L709.48,251.40L710.21,251.40L710.93,251.40L711.66,251.40L712.39,251.40" stroke="#f00" stroke-width="1.2" fill="none"/>
<path d="M549.40,69.90H736.30V261.60" stroke="#000" stroke-width="1.1" fill="none"/>
<g id="pc">
<line x1="36.80" y1="662.10" x2="375.50" y2="662.10" stroke="#000" stroke-width="1.5"/>
<line x1="43.10" y1="395.20" x2="43.10" y2="665.40" stroke="#000" stroke-width="1.5"/>
<path d="M42.84,662.10v3.30M46.30,662.10v3.30M49.23,662.10v3.30M51.76,662.10v3.30M54.00,662.10v3.30M56.00,662.10v6.30M69.16,662.10v3.30M76.86,662.10v3.30M82.33,662.10v3.30M86.57,662.10v3.30M90.03,662.10v3.30M92.96,662.10v3.30M95.49,662.10v3.30M97.73,662.10v3.30M99.73,662.10v6.30M112.89,662.10v3.30M120.59,662.10v3.30M126.06,662.10v3.30M130.30,662.10v3.30M133.76,662.10v3.30M136.69,662.10v3.30M139.22,662.10v3.30M141.46,662.10v3.30M143.46,662.10v6.30M156.62,662.10v3.30M164.32,662.10v3.30M169.79,662.10v3.30M174.03,662.10v3.30M177.49,662.10v3.30M180.42,662.10v3.30M182.95,662.10v3.30M185.19,662.10v3.30M187.19,662.10v6.30M200.35,662.10v3.30M208.05,662.10v3.30M213.52,662.10v3.30M217.76,662.10v3.30M221.22,662.10v3.30M224.15,662.10v3.30M226.68,662.10v3.30M228.92,662.10v3.30M230.92,662.10v6.30M244.08,662.10v3.30M251.78,662.10v3.30M257.25,662.10v3.30M261.49,662.10v3.30M264.95,662.10v3.30M267.88,662.10v3.30M270.41,662.10v3.30M272.65,662.10v3.30M274.65,662.10v6.30M287.81,662.10v3.30M295.51,662.10v3.30M300.98,662.10v3.30M305.22,662.10v3.30M308.68,662.10v3.30M311.61,662.10v3.30M314.14,662.10v3.30M316.38,662.10v3.30M318.38,662.10v6.30M331.54,662.10v3.30M339.24,662.10v3.30M344.71,662.10v3.30M348.95,662.10v3.30M352.41,662.10v3.30M355.34,662.10v3.30M357.87,662.10v3.30M360.11,662.10v3.30M362.11,662.10v6.30M375.27,662.10v3.30" stroke="#000" stroke-width="1.3" fill="none"/>
<path d="M43.10,662.10h-6.30M43.10,595.38h-6.30M43.10,528.65h-6.30M43.10,461.93h-6.30M43.10,395.20h-6.30M43.10,628.74h-3.30M43.10,562.01h-3.30M43.10,495.29h-3.30M43.10,428.56h-3.30" stroke="#000" stroke-width="1.3" fill="none"/>
<text x="31.70" y="666.70" font-size="13" text-anchor="end" font-weight="normal" >0</text>
<text x="31.70" y="599.98" font-size="13" text-anchor="end" font-weight="normal" >2</text>
<text x="31.70" y="533.25" font-size="13" text-anchor="end" font-weight="normal" >4</text>
<text x="31.70" y="466.53" font-size="13" text-anchor="end" font-weight="normal" >6</text>
<text x="31.70" y="399.80" font-size="13" text-anchor="end" font-weight="normal" >8</text>
<text x="56.00" y="684.70" font-size="12.3" text-anchor="middle">10<tspan dy="-5.0" font-size="8.3">0</tspan></text>
<text x="99.73" y="684.70" font-size="12.3" text-anchor="middle">10<tspan dy="-5.0" font-size="8.3">1</tspan></text>
<text x="143.46" y="684.70" font-size="12.3" text-anchor="middle">10<tspan dy="-5.0" font-size="8.3">2</tspan></text>
<text x="187.19" y="684.70" font-size="12.3" text-anchor="middle">10<tspan dy="-5.0" font-size="8.3">3</tspan></text>
<text x="230.92" y="684.70" font-size="12.3" text-anchor="middle">10<tspan dy="-5.0" font-size="8.3">4</tspan></text>
<text x="274.65" y="684.70" font-size="12.3" text-anchor="middle">10<tspan dy="-5.0" font-size="8.3">5</tspan></text>
<text x="318.38" y="684.70" font-size="12.3" text-anchor="middle">10<tspan dy="-5.0" font-size="8.3">6</tspan></text>
<text x="362.11" y="684.70" font-size="12.3" text-anchor="middle">10<tspan dy="-5.0" font-size="8.3">7</tspan></text>
<circle cx="362.11" cy="661.97" r="3.50" fill="#fff" stroke="#00f" stroke-width="1.5"/>
<circle cx="357.13" cy="661.96" r="3.50" fill="#fff" stroke="#00f" stroke-width="1.5"/>
<circle cx="352.15" cy="661.96" r="3.50" fill="#fff" stroke="#00f" stroke-width="1.5"/>
<circle cx="347.16" cy="661.95" r="3.50" fill="#fff" stroke="#00f" stroke-width="1.5"/>
<circle cx="342.18" cy="661.94" r="3.50" fill="#fff" stroke="#00f" stroke-width="1.5"/>
<circle cx="337.20" cy="661.92" r="3.50" fill="#fff" stroke="#00f" stroke-width="1.5"/>
<circle cx="332.22" cy="661.91" r="3.50" fill="#fff" stroke="#00f" stroke-width="1.5"/>
<circle cx="327.24" cy="661.89" r="3.50" fill="#fff" stroke="#00f" stroke-width="1.5"/>
<circle cx="322.25" cy="661.86" r="3.50" fill="#fff" stroke="#00f" stroke-width="1.5"/>
<circle cx="317.27" cy="661.84" r="3.50" fill="#fff" stroke="#00f" stroke-width="1.5"/>
<circle cx="312.29" cy="661.81" r="3.50" fill="#fff" stroke="#00f" stroke-width="1.5"/>
<circle cx="307.31" cy="661.78" r="3.50" fill="#fff" stroke="#00f" stroke-width="1.5"/>
<circle cx="302.33" cy="661.74" r="3.50" fill="#fff" stroke="#00f" stroke-width="1.5"/>
<circle cx="297.35" cy="661.71" r="3.50" fill="#fff" stroke="#00f" stroke-width="1.5"/>
<circle cx="292.36" cy="661.64" r="3.50" fill="#fff" stroke="#00f" stroke-width="1.5"/>
<circle cx="287.38" cy="661.51" r="3.50" fill="#fff" stroke="#00f" stroke-width="1.5"/>
<circle cx="282.40" cy="661.32" r="3.50" fill="#fff" stroke="#00f" stroke-width="1.5"/>
<circle cx="277.42" cy="661.08" r="3.50" fill="#fff" stroke="#00f" stroke-width="1.5"/>
<circle cx="272.44" cy="660.78" r="3.50" fill="#fff" stroke="#00f" stroke-width="1.5"/>
<circle cx="267.45" cy="660.25" r="3.50" fill="#fff" stroke="#00f" stroke-width="1.5"/>
<circle cx="262.47" cy="659.59" r="3.50" fill="#fff" stroke="#00f" stroke-width="1.5"/>
<circle cx="257.49" cy="658.74" r="3.50" fill="#fff" stroke="#00f" stroke-width="1.5"/>
<circle cx="252.51" cy="657.70" r="3.50" fill="#fff" stroke="#00f" stroke-width="1.5"/>
<circle cx="247.53" cy="656.43" r="3.50" fill="#fff" stroke="#00f" stroke-width="1.5"/>
<circle cx="242.54" cy="654.97" r="3.50" fill="#fff" stroke="#00f" stroke-width="1.5"/>
<circle cx="237.56" cy="653.38" r="3.50" fill="#fff" stroke="#00f" stroke-width="1.5"/>
<circle cx="232.58" cy="651.68" r="3.50" fill="#fff" stroke="#00f" stroke-width="1.5"/>
<circle cx="227.60" cy="650.07" r="3.50" fill="#fff" stroke="#00f" stroke-width="1.5"/>
<circle cx="222.62" cy="648.42" r="3.50" fill="#fff" stroke="#00f" stroke-width="1.5"/>
<circle cx="217.63" cy="646.58" r="3.50" fill="#fff" stroke="#00f" stroke-width="1.5"/>
<circle cx="212.65" cy="644.86" r="3.50" fill="#fff" stroke="#00f" stroke-width="1.5"/>
<circle cx="207.67" cy="643.15" r="3.50" fill="#fff" stroke="#00f" stroke-width="1.5"/>
<circle cx="202.69" cy="641.21" r="3.50" fill="#fff" stroke="#00f" stroke-width="1.5"/>
<circle cx="197.71" cy="639.38" r="3.50" fill="#fff" stroke="#00f" stroke-width="1.5"/>
<circle cx="192.73" cy="637.91" r="3.50" fill="#fff" stroke="#00f" stroke-width="1.5"/>
<circle cx="187.74" cy="636.60" r="3.50" fill="#fff" stroke="#00f" stroke-width="1.5"/>
<circle cx="182.76" cy="635.44" r="3.50" fill="#fff" stroke="#00f" stroke-width="1.5"/>
<circle cx="177.78" cy="634.40" r="3.50" fill="#fff" stroke="#00f" stroke-width="1.5"/>
<circle cx="172.80" cy="633.45" r="3.50" fill="#fff" stroke="#00f" stroke-width="1.5"/>
<circle cx="167.82" cy="632.59" r="3.50" fill="#fff" stroke="#00f" stroke-width="1.5"/>
<circle cx="162.83" cy="631.83" r="3.50" fill="#fff" stroke="#00f" stroke-width="1.5"/>
<circle cx="157.85" cy="631.18" r="3.50" fill="#fff" stroke="#00f" stroke-width="1.5"/>
<circle cx="152.87" cy="630.58" r="3.50" fill="#fff" stroke="#00f" stroke-width="1.5"/>
<circle cx="147.89" cy="630.08" r="3.50" fill="#fff" stroke="#00f" stroke-width="1.5"/>
<circle cx="142.91" cy="629.70" r="3.50" fill="#fff" stroke="#00f" stroke-width="1.5"/>
<circle cx="137.92" cy="629.41" r="3.50" fill="#fff" stroke="#00f" stroke-width="1.5"/>
<circle cx="132.94" cy="629.15" r="3.50" fill="#fff" stroke="#00f" stroke-width="1.5"/>
<circle cx="127.96" cy="628.94" r="3.50" fill="#fff" stroke="#00f" stroke-width="1.5"/>
<circle cx="122.98" cy="628.79" r="3.50" fill="#fff" stroke="#00f" stroke-width="1.5"/>
<circle cx="118.00" cy="628.71" r="3.50" fill="#fff" stroke="#00f" stroke-width="1.5"/>
<circle cx="113.02" cy="628.66" r="3.50" fill="#fff" stroke="#00f" stroke-width="1.5"/>
<circle cx="108.03" cy="628.62" r="3.50" fill="#fff" stroke="#00f" stroke-width="1.5"/>
<circle cx="103.05" cy="628.59" r="3.50" fill="#fff" stroke="#00f" stroke-width="1.5"/>
<circle cx="98.07" cy="628.56" r="3.50" fill="#fff" stroke="#00f" stroke-width="1.5"/>
<circle cx="93.09" cy="628.53" r="3.50" fill="#fff" stroke="#00f" stroke-width="1.5"/>
<circle cx="88.11" cy="628.51" r="3.50" fill="#fff" stroke="#00f" stroke-width="1.5"/>
<circle cx="83.12" cy="628.49" r="3.50" fill="#fff" stroke="#00f" stroke-width="1.5"/>
<circle cx="78.14" cy="628.46" r="3.50" fill="#fff" stroke="#00f" stroke-width="1.5"/>
<circle cx="73.16" cy="628.44" r="3.50" fill="#fff" stroke="#00f" stroke-width="1.5"/>
<circle cx="68.18" cy="628.43" r="3.50" fill="#fff" stroke="#00f" stroke-width="1.5"/>
<circle cx="63.20" cy="628.41" r="3.50" fill="#fff" stroke="#00f" stroke-width="1.5"/>
<circle cx="58.21" cy="628.41" r="3.50" fill="#fff" stroke="#00f" stroke-width="1.5"/>
<path d="M362.11,658.03L358.97,659.98L358.97,663.88L362.11,665.83L365.25,663.88L365.25,659.98Z" fill="#fff" stroke="#0f0" stroke-width="1.5"/>
<path d="M357.13,658.03L353.99,659.98L353.99,663.88L357.13,665.83L360.27,663.88L360.27,659.98Z" fill="#fff" stroke="#0f0" stroke-width="1.5"/>
<path d="M352.15,658.02L349.01,659.97L349.01,663.87L352.15,665.82L355.29,663.87L355.29,659.97Z" fill="#fff" stroke="#0f0" stroke-width="1.5"/>
<path d="M347.16,658.01L344.02,659.96L344.02,663.86L347.16,665.81L350.31,663.86L350.31,659.96Z" fill="#fff" stroke="#0f0" stroke-width="1.5"/>
<path d="M342.18,657.99L339.04,659.94L339.04,663.84L342.18,665.79L345.32,663.84L345.32,659.94Z" fill="#fff" stroke="#0f0" stroke-width="1.5"/>
<path d="M337.20,657.98L334.06,659.93L334.06,663.83L337.20,665.78L340.34,663.83L340.34,659.93Z" fill="#fff" stroke="#0f0" stroke-width="1.5"/>
<path d="M332.22,657.96L329.08,659.91L329.08,663.81L332.22,665.76L335.36,663.81L335.36,659.91Z" fill="#fff" stroke="#0f0" stroke-width="1.5"/>
<path d="M327.24,657.93L324.10,659.88L324.10,663.78L327.24,665.73L330.38,663.78L330.38,659.88Z" fill="#fff" stroke="#0f0" stroke-width="1.5"/>
<path d="M322.25,657.90L319.11,659.85L319.11,663.75L322.25,665.70L325.40,663.75L325.40,659.85Z" fill="#fff" stroke="#0f0" stroke-width="1.5"/>
<path d="M317.27,657.87L314.13,659.82L314.13,663.72L317.27,665.67L320.41,663.72L320.41,659.82Z" fill="#fff" stroke="#0f0" stroke-width="1.5"/>
<path d="M312.29,657.84L309.15,659.79L309.15,663.69L312.29,665.64L315.43,663.69L315.43,659.79Z" fill="#fff" stroke="#0f0" stroke-width="1.5"/>
<path d="M307.31,657.80L304.17,659.75L304.17,663.65L307.31,665.60L310.45,663.65L310.45,659.75Z" fill="#fff" stroke="#0f0" stroke-width="1.5"/>
<path d="M302.33,657.75L299.19,659.70L299.19,663.60L302.33,665.55L305.47,663.60L305.47,659.70Z" fill="#fff" stroke="#0f0" stroke-width="1.5"/>
<path d="M297.35,657.71L294.20,659.66L294.20,663.56L297.35,665.51L300.49,663.56L300.49,659.66Z" fill="#fff" stroke="#0f0" stroke-width="1.5"/>
<path d="M292.36,657.64L289.22,659.59L289.22,663.49L292.36,665.44L295.50,663.49L295.50,659.59Z" fill="#fff" stroke="#0f0" stroke-width="1.5"/>
<path d="M287.38,657.50L284.24,659.45L284.24,663.35L287.38,665.30L290.52,663.35L290.52,659.45Z" fill="#fff" stroke="#0f0" stroke-width="1.5"/>
<path d="M282.40,657.30L279.26,659.25L279.26,663.15L282.40,665.10L285.54,663.15L285.54,659.25Z" fill="#fff" stroke="#0f0" stroke-width="1.5"/>
<path d="M277.42,657.03L274.28,658.98L274.28,662.88L277.42,664.83L280.56,662.88L280.56,658.98Z" fill="#fff" stroke="#0f0" stroke-width="1.5"/>
<path d="M272.44,656.68L269.29,658.63L269.29,662.53L272.44,664.48L275.58,662.53L275.58,658.63Z" fill="#fff" stroke="#0f0" stroke-width="1.5"/>
<path d="M267.45,656.00L264.31,657.95L264.31,661.85L267.45,663.80L270.59,661.85L270.59,657.95Z" fill="#fff" stroke="#0f0" stroke-width="1.5"/>
<path d="M262.47,655.06L259.33,657.01L259.33,660.91L262.47,662.86L265.61,660.91L265.61,657.01Z" fill="#fff" stroke="#0f0" stroke-width="1.5"/>
<path d="M257.49,653.79L254.35,655.74L254.35,659.64L257.49,661.59L260.63,659.64L260.63,655.74Z" fill="#fff" stroke="#0f0" stroke-width="1.5"/>
<path d="M252.51,652.10L249.37,654.05L249.37,657.95L252.51,659.90L255.65,657.95L255.65,654.05Z" fill="#fff" stroke="#0f0" stroke-width="1.5"/>
<path d="M247.53,650.11L244.39,652.06L244.39,655.96L247.53,657.91L250.67,655.96L250.67,652.06Z" fill="#fff" stroke="#0f0" stroke-width="1.5"/>
<path d="M242.54,647.80L239.40,649.75L239.40,653.65L242.54,655.60L245.69,653.65L245.69,649.75Z" fill="#fff" stroke="#0f0" stroke-width="1.5"/>
<path d="M237.56,645.16L234.42,647.11L234.42,651.01L237.56,652.96L240.70,651.01L240.70,647.11Z" fill="#fff" stroke="#0f0" stroke-width="1.5"/>
<path d="M232.58,642.17L229.44,644.12L229.44,648.02L232.58,649.97L235.72,648.02L235.72,644.12Z" fill="#fff" stroke="#0f0" stroke-width="1.5"/>
<path d="M227.60,638.87L224.46,640.82L224.46,644.72L227.60,646.67L230.74,644.72L230.74,640.82Z" fill="#fff" stroke="#0f0" stroke-width="1.5"/>
<path d="M222.62,635.66L219.48,637.61L219.48,641.51L222.62,643.46L225.76,641.51L225.76,637.61Z" fill="#fff" stroke="#0f0" stroke-width="1.5"/>
<path d="M217.63,632.46L214.49,634.41L214.49,638.31L217.63,640.26L220.78,638.31L220.78,634.41Z" fill="#fff" stroke="#0f0" stroke-width="1.5"/>
<path d="M212.65,629.23L209.51,631.18L209.51,635.08L212.65,637.03L215.79,635.08L215.79,631.18Z" fill="#fff" stroke="#0f0" stroke-width="1.5"/>
<path d="M207.67,626.60L204.53,628.55L204.53,632.45L207.67,634.40L210.81,632.45L210.81,628.55Z" fill="#fff" stroke="#0f0" stroke-width="1.5"/>
<path d="M202.69,624.15L199.55,626.10L199.55,630.00L202.69,631.95L205.83,630.00L205.83,626.10Z" fill="#fff" stroke="#0f0" stroke-width="1.5"/>
<path d="M197.71,622.13L194.57,624.08L194.57,627.98L197.71,629.93L200.85,627.98L200.85,624.08Z" fill="#fff" stroke="#0f0" stroke-width="1.5"/>
<path d="M192.73,620.70L189.58,622.65L189.58,626.55L192.73,628.50L195.87,626.55L195.87,622.65Z" fill="#fff" stroke="#0f0" stroke-width="1.5"/>
<path d="M187.74,619.52L184.60,621.47L184.60,625.37L187.74,627.32L190.88,625.37L190.88,621.47Z" fill="#fff" stroke="#0f0" stroke-width="1.5"/>
<path d="M182.76,618.48L179.62,620.43L179.62,624.33L182.76,626.28L185.90,624.33L185.90,620.43Z" fill="#fff" stroke="#0f0" stroke-width="1.5"/>
<path d="M177.78,617.49L174.64,619.44L174.64,623.34L177.78,625.29L180.92,623.34L180.92,619.44Z" fill="#fff" stroke="#0f0" stroke-width="1.5"/>
<path d="M172.80,616.53L169.66,618.48L169.66,622.38L172.80,624.33L175.94,622.38L175.94,618.48Z" fill="#fff" stroke="#0f0" stroke-width="1.5"/>
<path d="M167.82,615.64L164.67,617.59L164.67,621.49L167.82,623.44L170.96,621.49L170.96,617.59Z" fill="#fff" stroke="#0f0" stroke-width="1.5"/>
<path d="M162.83,614.88L159.69,616.83L159.69,620.73L162.83,622.68L165.98,620.73L165.98,616.83Z" fill="#fff" stroke="#0f0" stroke-width="1.5"/>
<path d="M157.85,614.30L154.71,616.25L154.71,620.15L157.85,622.10L160.99,620.15L160.99,616.25Z" fill="#fff" stroke="#0f0" stroke-width="1.5"/>
<path d="M152.87,613.81L149.73,615.76L149.73,619.66L152.87,621.61L156.01,619.66L156.01,615.76Z" fill="#fff" stroke="#0f0" stroke-width="1.5"/>
<path d="M147.89,613.42L144.75,615.37L144.75,619.27L147.89,621.22L151.03,619.27L151.03,615.37Z" fill="#fff" stroke="#0f0" stroke-width="1.5"/>
<path d="M142.91,613.13L139.77,615.08L139.77,618.98L142.91,620.93L146.05,618.98L146.05,615.08Z" fill="#fff" stroke="#0f0" stroke-width="1.5"/>
<path d="M137.92,612.92L134.78,614.87L134.78,618.77L137.92,620.72L141.07,618.77L141.07,614.87Z" fill="#fff" stroke="#0f0" stroke-width="1.5"/>
<path d="M132.94,612.74L129.80,614.69L129.80,618.59L132.94,620.54L136.08,618.59L136.08,614.69Z" fill="#fff" stroke="#0f0" stroke-width="1.5"/>
<path d="M127.96,612.59L124.82,614.54L124.82,618.44L127.96,620.39L131.10,618.44L131.10,614.54Z" fill="#fff" stroke="#0f0" stroke-width="1.5"/>
<path d="M122.98,612.48L119.84,614.43L119.84,618.33L122.98,620.28L126.12,618.33L126.12,614.43Z" fill="#fff" stroke="#0f0" stroke-width="1.5"/>
<path d="M118.00,612.40L114.86,614.35L114.86,618.25L118.00,620.20L121.14,618.25L121.14,614.35Z" fill="#fff" stroke="#0f0" stroke-width="1.5"/>
<path d="M113.02,612.34L109.87,614.29L109.87,618.19L113.02,620.14L116.16,618.19L116.16,614.29Z" fill="#fff" stroke="#0f0" stroke-width="1.5"/>
<path d="M108.03,612.29L104.89,614.24L104.89,618.14L108.03,620.09L111.17,618.14L111.17,614.24Z" fill="#fff" stroke="#0f0" stroke-width="1.5"/>
<path d="M103.05,612.25L99.91,614.20L99.91,618.10L103.05,620.05L106.19,618.10L106.19,614.20Z" fill="#fff" stroke="#0f0" stroke-width="1.5"/>
<path d="M98.07,612.21L94.93,614.16L94.93,618.06L98.07,620.01L101.21,618.06L101.21,614.16Z" fill="#fff" stroke="#0f0" stroke-width="1.5"/>
<path d="M93.09,612.18L89.95,614.13L89.95,618.03L93.09,619.98L96.23,618.03L96.23,614.13Z" fill="#fff" stroke="#0f0" stroke-width="1.5"/>
<path d="M88.11,612.15L84.96,614.10L84.96,618.00L88.11,619.95L91.25,618.00L91.25,614.10Z" fill="#fff" stroke="#0f0" stroke-width="1.5"/>
<path d="M83.12,612.11L79.98,614.06L79.98,617.96L83.12,619.91L86.26,617.96L86.26,614.06Z" fill="#fff" stroke="#0f0" stroke-width="1.5"/>
<path d="M78.14,612.08L75.00,614.03L75.00,617.93L78.14,619.88L81.28,617.93L81.28,614.03Z" fill="#fff" stroke="#0f0" stroke-width="1.5"/>
<path d="M73.16,612.06L70.02,614.01L70.02,617.91L73.16,619.86L76.30,617.91L76.30,614.01Z" fill="#fff" stroke="#0f0" stroke-width="1.5"/>
<path d="M68.18,612.03L65.04,613.98L65.04,617.88L68.18,619.83L71.32,617.88L71.32,613.98Z" fill="#fff" stroke="#0f0" stroke-width="1.5"/>
<path d="M63.20,612.01L60.06,613.96L60.06,617.86L63.20,619.81L66.34,617.86L66.34,613.96Z" fill="#fff" stroke="#0f0" stroke-width="1.5"/>
<path d="M58.21,612.00L55.07,613.95L55.07,617.85L58.21,619.80L61.36,617.85L61.36,613.95Z" fill="#fff" stroke="#0f0" stroke-width="1.5"/>
<path d="M362.11,657.33L366.11,661.93L362.11,666.53L358.11,661.93Z" fill="#fff" stroke="#0ff" stroke-width="1.5"/>
<path d="M357.13,657.33L361.13,661.93L357.13,666.53L353.13,661.93Z" fill="#fff" stroke="#0ff" stroke-width="1.5"/>
<path d="M352.15,657.32L356.15,661.92L352.15,666.52L348.15,661.92Z" fill="#fff" stroke="#0ff" stroke-width="1.5"/>
<path d="M347.16,657.31L351.16,661.91L347.16,666.51L343.16,661.91Z" fill="#fff" stroke="#0ff" stroke-width="1.5"/>
<path d="M342.18,657.29L346.18,661.89L342.18,666.49L338.18,661.89Z" fill="#fff" stroke="#0ff" stroke-width="1.5"/>
<path d="M337.20,657.27L341.20,661.87L337.20,666.47L333.20,661.87Z" fill="#fff" stroke="#0ff" stroke-width="1.5"/>
<path d="M332.22,657.25L336.22,661.85L332.22,666.45L328.22,661.85Z" fill="#fff" stroke="#0ff" stroke-width="1.5"/>
<path d="M327.24,657.22L331.24,661.82L327.24,666.42L323.24,661.82Z" fill="#fff" stroke="#0ff" stroke-width="1.5"/>
<path d="M322.25,657.19L326.25,661.79L322.25,666.39L318.25,661.79Z" fill="#fff" stroke="#0ff" stroke-width="1.5"/>
<path d="M317.27,657.16L321.27,661.76L317.27,666.36L313.27,661.76Z" fill="#fff" stroke="#0ff" stroke-width="1.5"/>
<path d="M312.29,657.13L316.29,661.73L312.29,666.33L308.29,661.73Z" fill="#fff" stroke="#0ff" stroke-width="1.5"/>
<path d="M307.31,657.09L311.31,661.69L307.31,666.29L303.31,661.69Z" fill="#fff" stroke="#0ff" stroke-width="1.5"/>
<path d="M302.33,657.05L306.33,661.65L302.33,666.25L298.33,661.65Z" fill="#fff" stroke="#0ff" stroke-width="1.5"/>
<path d="M297.35,657.01L301.35,661.61L297.35,666.21L293.35,661.61Z" fill="#fff" stroke="#0ff" stroke-width="1.5"/>
<path d="M292.36,656.95L296.36,661.55L292.36,666.15L288.36,661.55Z" fill="#fff" stroke="#0ff" stroke-width="1.5"/>
<path d="M287.38,656.86L291.38,661.46L287.38,666.06L283.38,661.46Z" fill="#fff" stroke="#0ff" stroke-width="1.5"/>
<path d="M282.40,656.74L286.40,661.34L282.40,665.94L278.40,661.34Z" fill="#fff" stroke="#0ff" stroke-width="1.5"/>
<path d="M277.42,656.59L281.42,661.19L277.42,665.79L273.42,661.19Z" fill="#fff" stroke="#0ff" stroke-width="1.5"/>
<path d="M272.44,656.42L276.44,661.02L272.44,665.62L268.44,661.02Z" fill="#fff" stroke="#0ff" stroke-width="1.5"/>
<path d="M267.45,656.21L271.45,660.81L267.45,665.41L263.45,660.81Z" fill="#fff" stroke="#0ff" stroke-width="1.5"/>
<path d="M262.47,655.92L266.47,660.52L262.47,665.12L258.47,660.52Z" fill="#fff" stroke="#0ff" stroke-width="1.5"/>
<path d="M257.49,655.50L261.49,660.10L257.49,664.70L253.49,660.10Z" fill="#fff" stroke="#0ff" stroke-width="1.5"/>
<path d="M252.51,654.84L256.51,659.44L252.51,664.04L248.51,659.44Z" fill="#fff" stroke="#0ff" stroke-width="1.5"/>
<path d="M247.53,652.78L251.53,657.38L247.53,661.98L243.53,657.38Z" fill="#fff" stroke="#0ff" stroke-width="1.5"/>
<path d="M242.54,649.58L246.54,654.18L242.54,658.78L238.54,654.18Z" fill="#fff" stroke="#0ff" stroke-width="1.5"/>
<path d="M237.56,644.89L241.56,649.49L237.56,654.09L233.56,649.49Z" fill="#fff" stroke="#0ff" stroke-width="1.5"/>
<path d="M232.58,640.27L236.58,644.87L232.58,649.47L228.58,644.87Z" fill="#fff" stroke="#0ff" stroke-width="1.5"/>
<path d="M227.60,634.16L231.60,638.76L227.60,643.36L223.60,638.76Z" fill="#fff" stroke="#0ff" stroke-width="1.5"/>
<path d="M222.62,625.12L226.62,629.72L222.62,634.32L218.62,629.72Z" fill="#fff" stroke="#0ff" stroke-width="1.5"/>
<path d="M217.63,616.39L221.63,620.99L217.63,625.59L213.63,620.99Z" fill="#fff" stroke="#0ff" stroke-width="1.5"/>
<path d="M212.65,605.92L216.65,610.52L212.65,615.12L208.65,610.52Z" fill="#fff" stroke="#0ff" stroke-width="1.5"/>
<path d="M207.67,594.88L211.67,599.48L207.67,604.08L203.67,599.48Z" fill="#fff" stroke="#0ff" stroke-width="1.5"/>
<path d="M202.69,582.96L206.69,587.56L202.69,592.16L198.69,587.56Z" fill="#fff" stroke="#0ff" stroke-width="1.5"/>
<path d="M197.71,570.51L201.71,575.11L197.71,579.71L193.71,575.11Z" fill="#fff" stroke="#0ff" stroke-width="1.5"/>
<path d="M192.73,558.44L196.73,563.04L192.73,567.64L188.73,563.04Z" fill="#fff" stroke="#0ff" stroke-width="1.5"/>
<path d="M187.74,547.94L191.74,552.54L187.74,557.14L183.74,552.54Z" fill="#fff" stroke="#0ff" stroke-width="1.5"/>
<path d="M182.76,536.27L186.76,540.87L182.76,545.47L178.76,540.87Z" fill="#fff" stroke="#0ff" stroke-width="1.5"/>
<path d="M177.78,524.73L181.78,529.33L177.78,533.93L173.78,529.33Z" fill="#fff" stroke="#0ff" stroke-width="1.5"/>
<path d="M172.80,513.20L176.80,517.80L172.80,522.40L168.80,517.80Z" fill="#fff" stroke="#0ff" stroke-width="1.5"/>
<path d="M167.82,501.96L171.82,506.56L167.82,511.16L163.82,506.56Z" fill="#fff" stroke="#0ff" stroke-width="1.5"/>
<path d="M162.83,490.42L166.83,495.02L162.83,499.62L158.83,495.02Z" fill="#fff" stroke="#0ff" stroke-width="1.5"/>
<path d="M157.85,479.08L161.85,483.68L157.85,488.28L153.85,483.68Z" fill="#fff" stroke="#0ff" stroke-width="1.5"/>
<path d="M152.87,467.60L156.87,472.20L152.87,476.80L148.87,472.20Z" fill="#fff" stroke="#0ff" stroke-width="1.5"/>
<path d="M147.89,457.62L151.89,462.22L147.89,466.82L143.89,462.22Z" fill="#fff" stroke="#0ff" stroke-width="1.5"/>
<path d="M142.91,449.38L146.91,453.98L142.91,458.58L138.91,453.98Z" fill="#fff" stroke="#0ff" stroke-width="1.5"/>
<path d="M137.92,441.97L141.92,446.57L137.92,451.17L133.92,446.57Z" fill="#fff" stroke="#0ff" stroke-width="1.5"/>
<path d="M132.94,437.12L136.94,441.72L132.94,446.32L128.94,441.72Z" fill="#fff" stroke="#0ff" stroke-width="1.5"/>
<path d="M127.96,432.69L131.96,437.29L127.96,441.89L123.96,437.29Z" fill="#fff" stroke="#0ff" stroke-width="1.5"/>
<path d="M122.98,429.29L126.98,433.89L122.98,438.49L118.98,433.89Z" fill="#fff" stroke="#0ff" stroke-width="1.5"/>
<path d="M118.00,427.56L122.00,432.16L118.00,436.76L114.00,432.16Z" fill="#fff" stroke="#0ff" stroke-width="1.5"/>
<path d="M113.02,426.34L117.02,430.94L113.02,435.54L109.02,430.94Z" fill="#fff" stroke="#0ff" stroke-width="1.5"/>
<path d="M108.03,425.25L112.03,429.85L108.03,434.45L104.03,429.85Z" fill="#fff" stroke="#0ff" stroke-width="1.5"/>
<path d="M103.05,424.35L107.05,428.95L103.05,433.55L99.05,428.95Z" fill="#fff" stroke="#0ff" stroke-width="1.5"/>
<path d="M98.07,423.82L102.07,428.42L98.07,433.02L94.07,428.42Z" fill="#fff" stroke="#0ff" stroke-width="1.5"/>
<path d="M93.09,423.45L97.09,428.05L93.09,432.65L89.09,428.05Z" fill="#fff" stroke="#0ff" stroke-width="1.5"/>
<path d="M88.11,423.14L92.11,427.74L88.11,432.34L84.11,427.74Z" fill="#fff" stroke="#0ff" stroke-width="1.5"/>
<path d="M83.12,422.92L87.12,427.52L83.12,432.12L79.12,427.52Z" fill="#fff" stroke="#0ff" stroke-width="1.5"/>
<path d="M78.14,422.80L82.14,427.40L78.14,432.00L74.14,427.40Z" fill="#fff" stroke="#0ff" stroke-width="1.5"/>
<path d="M73.16,422.74L77.16,427.34L73.16,431.94L69.16,427.34Z" fill="#fff" stroke="#0ff" stroke-width="1.5"/>
<path d="M68.18,422.69L72.18,427.29L68.18,431.89L64.18,427.29Z" fill="#fff" stroke="#0ff" stroke-width="1.5"/>
<path d="M63.20,422.65L67.20,427.25L63.20,431.85L59.20,427.25Z" fill="#fff" stroke="#0ff" stroke-width="1.5"/>
<path d="M58.21,422.63L62.21,427.23L58.21,431.83L54.21,427.23Z" fill="#fff" stroke="#0ff" stroke-width="1.5"/>
<path d="M43.10,395.20H375.50V664.60" stroke="#000" stroke-width="1.5" fill="none"/>
</g>
<g id="pd">
<line x1="416.60" y1="662.20" x2="755.20" y2="662.20" stroke="#000" stroke-width="1.5"/>
<line x1="422.90" y1="395.20" x2="422.90" y2="665.50" stroke="#000" stroke-width="1.5"/>
<path d="M425.90,662.20v3.30M428.83,662.20v3.30M431.36,662.20v3.30M433.60,662.20v3.30M435.60,662.20v6.30M448.76,662.20v3.30M456.46,662.20v3.30M461.93,662.20v3.30M466.17,662.20v3.30M469.63,662.20v3.30M472.56,662.20v3.30M475.09,662.20v3.30M477.33,662.20v3.30M479.33,662.20v6.30M492.49,662.20v3.30M500.19,662.20v3.30M505.66,662.20v3.30M509.90,662.20v3.30M513.36,662.20v3.30M516.29,662.20v3.30M518.82,662.20v3.30M521.06,662.20v3.30M523.06,662.20v6.30M536.22,662.20v3.30M543.92,662.20v3.30M549.39,662.20v3.30M553.63,662.20v3.30M557.09,662.20v3.30M560.02,662.20v3.30M562.55,662.20v3.30M564.79,662.20v3.30M566.79,662.20v6.30M579.95,662.20v3.30M587.65,662.20v3.30M593.12,662.20v3.30M597.36,662.20v3.30M600.82,662.20v3.30M603.75,662.20v3.30M606.28,662.20v3.30M608.52,662.20v3.30M610.52,662.20v6.30M623.68,662.20v3.30M631.38,662.20v3.30M636.85,662.20v3.30M641.09,662.20v3.30M644.55,662.20v3.30M647.48,662.20v3.30M650.01,662.20v3.30M652.25,662.20v3.30M654.25,662.20v6.30M667.41,662.20v3.30M675.11,662.20v3.30M680.58,662.20v3.30M684.82,662.20v3.30M688.28,662.20v3.30M691.21,662.20v3.30M693.74,662.20v3.30M695.98,662.20v3.30M697.98,662.20v6.30M711.14,662.20v3.30M718.84,662.20v3.30M724.31,662.20v3.30M728.55,662.20v3.30M732.01,662.20v3.30M734.94,662.20v3.30M737.47,662.20v3.30M739.71,662.20v3.30M741.71,662.20v6.30M754.87,662.20v3.30" stroke="#000" stroke-width="1.3" fill="none"/>
<path d="M422.90,662.20h-6.30M422.90,528.70h-6.30M422.90,395.20h-6.30M422.90,595.45h-3.30M422.90,461.95h-3.30" stroke="#000" stroke-width="1.3" fill="none"/>
<text x="411.30" y="666.80" font-size="13" text-anchor="end" font-weight="normal" >0</text>
<text x="411.30" y="533.30" font-size="13" text-anchor="end" font-weight="normal" >1</text>
<text x="411.30" y="399.80" font-size="13" text-anchor="end" font-weight="normal" >2</text>
<text x="435.60" y="684.70" font-size="12.3" text-anchor="middle">10<tspan dy="-5.0" font-size="8.3">0</tspan></text>
<text x="479.33" y="684.70" font-size="12.3" text-anchor="middle">10<tspan dy="-5.0" font-size="8.3">1</tspan></text>
<text x="523.06" y="684.70" font-size="12.3" text-anchor="middle">10<tspan dy="-5.0" font-size="8.3">2</tspan></text>
<text x="566.79" y="684.70" font-size="12.3" text-anchor="middle">10<tspan dy="-5.0" font-size="8.3">3</tspan></text>
<text x="610.52" y="684.70" font-size="12.3" text-anchor="middle">10<tspan dy="-5.0" font-size="8.3">4</tspan></text>
<text x="654.25" y="684.70" font-size="12.3" text-anchor="middle">10<tspan dy="-5.0" font-size="8.3">5</tspan></text>
<text x="697.98" y="684.70" font-size="12.3" text-anchor="middle">10<tspan dy="-5.0" font-size="8.3">6</tspan></text>
<text x="741.71" y="684.70" font-size="12.3" text-anchor="middle">10<tspan dy="-5.0" font-size="8.3">7</tspan></text>
<circle cx="741.71" cy="661.52" r="3.50" fill="#fff" stroke="#00f" stroke-width="1.5"/>
<circle cx="736.73" cy="661.46" r="3.50" fill="#fff" stroke="#00f" stroke-width="1.5"/>
<circle cx="731.75" cy="661.37" r="3.50" fill="#fff" stroke="#00f" stroke-width="1.5"/>
<circle cx="726.76" cy="661.23" r="3.50" fill="#fff" stroke="#00f" stroke-width="1.5"/>
<circle cx="721.78" cy="661.06" r="3.50" fill="#fff" stroke="#00f" stroke-width="1.5"/>
<circle cx="716.80" cy="660.84" r="3.50" fill="#fff" stroke="#00f" stroke-width="1.5"/>
<circle cx="711.82" cy="660.59" r="3.50" fill="#fff" stroke="#00f" stroke-width="1.5"/>
<circle cx="706.84" cy="660.30" r="3.50" fill="#fff" stroke="#00f" stroke-width="1.5"/>
<circle cx="701.85" cy="659.96" r="3.50" fill="#fff" stroke="#00f" stroke-width="1.5"/>
<circle cx="696.87" cy="659.59" r="3.50" fill="#fff" stroke="#00f" stroke-width="1.5"/>
<circle cx="691.89" cy="659.19" r="3.50" fill="#fff" stroke="#00f" stroke-width="1.5"/>
<circle cx="686.91" cy="658.74" r="3.50" fill="#fff" stroke="#00f" stroke-width="1.5"/>
<circle cx="681.93" cy="658.25" r="3.50" fill="#fff" stroke="#00f" stroke-width="1.5"/>
<circle cx="676.95" cy="657.57" r="3.50" fill="#fff" stroke="#00f" stroke-width="1.5"/>
<circle cx="671.96" cy="656.23" r="3.50" fill="#fff" stroke="#00f" stroke-width="1.5"/>
<circle cx="666.98" cy="654.46" r="3.50" fill="#fff" stroke="#00f" stroke-width="1.5"/>
<circle cx="662.00" cy="652.49" r="3.50" fill="#fff" stroke="#00f" stroke-width="1.5"/>
<circle cx="657.02" cy="649.94" r="3.50" fill="#fff" stroke="#00f" stroke-width="1.5"/>
<circle cx="652.04" cy="647.05" r="3.50" fill="#fff" stroke="#00f" stroke-width="1.5"/>
<circle cx="647.05" cy="643.78" r="3.50" fill="#fff" stroke="#00f" stroke-width="1.5"/>
<circle cx="642.07" cy="640.11" r="3.50" fill="#fff" stroke="#00f" stroke-width="1.5"/>
<circle cx="637.09" cy="636.05" r="3.50" fill="#fff" stroke="#00f" stroke-width="1.5"/>
<circle cx="632.11" cy="632.23" r="3.50" fill="#fff" stroke="#00f" stroke-width="1.5"/>
<circle cx="627.13" cy="629.34" r="3.50" fill="#fff" stroke="#00f" stroke-width="1.5"/>
<circle cx="622.14" cy="626.87" r="3.50" fill="#fff" stroke="#00f" stroke-width="1.5"/>
<circle cx="617.16" cy="626.16" r="3.50" fill="#fff" stroke="#00f" stroke-width="1.5"/>
<circle cx="612.18" cy="626.30" r="3.50" fill="#fff" stroke="#00f" stroke-width="1.5"/>
<circle cx="607.20" cy="627.32" r="3.50" fill="#fff" stroke="#00f" stroke-width="1.5"/>
<circle cx="602.22" cy="628.49" r="3.50" fill="#fff" stroke="#00f" stroke-width="1.5"/>
<circle cx="597.23" cy="630.17" r="3.50" fill="#fff" stroke="#00f" stroke-width="1.5"/>
<circle cx="592.25" cy="631.04" r="3.50" fill="#fff" stroke="#00f" stroke-width="1.5"/>
<circle cx="587.27" cy="631.60" r="3.50" fill="#fff" stroke="#00f" stroke-width="1.5"/>
<circle cx="582.29" cy="631.96" r="3.50" fill="#fff" stroke="#00f" stroke-width="1.5"/>
<circle cx="577.31" cy="632.26" r="3.50" fill="#fff" stroke="#00f" stroke-width="1.5"/>
<circle cx="572.33" cy="632.52" r="3.50" fill="#fff" stroke="#00f" stroke-width="1.5"/>
<circle cx="567.34" cy="632.83" r="3.50" fill="#fff" stroke="#00f" stroke-width="1.5"/>
<circle cx="562.36" cy="633.22" r="3.50" fill="#fff" stroke="#00f" stroke-width="1.5"/>
<circle cx="557.38" cy="634.08" r="3.50" fill="#fff" stroke="#00f" stroke-width="1.5"/>
<circle cx="552.40" cy="635.89" r="3.50" fill="#fff" stroke="#00f" stroke-width="1.5"/>
<circle cx="547.42" cy="638.46" r="3.50" fill="#fff" stroke="#00f" stroke-width="1.5"/>
<circle cx="542.43" cy="641.48" r="3.50" fill="#fff" stroke="#00f" stroke-width="1.5"/>
<circle cx="537.45" cy="644.67" r="3.50" fill="#fff" stroke="#00f" stroke-width="1.5"/>
<circle cx="532.47" cy="647.76" r="3.50" fill="#fff" stroke="#00f" stroke-width="1.5"/>
<circle cx="527.49" cy="650.53" r="3.50" fill="#fff" stroke="#00f" stroke-width="1.5"/>
<circle cx="522.51" cy="652.74" r="3.50" fill="#fff" stroke="#00f" stroke-width="1.5"/>
<circle cx="517.52" cy="654.37" r="3.50" fill="#fff" stroke="#00f" stroke-width="1.5"/>
<circle cx="512.54" cy="655.63" r="3.50" fill="#fff" stroke="#00f" stroke-width="1.5"/>
<circle cx="507.56" cy="656.69" r="3.50" fill="#fff" stroke="#00f" stroke-width="1.5"/>
<circle cx="502.58" cy="657.62" r="3.50" fill="#fff" stroke="#00f" stroke-width="1.5"/>
<circle cx="497.60" cy="658.41" r="3.50" fill="#fff" stroke="#00f" stroke-width="1.5"/>
<circle cx="492.62" cy="659.04" r="3.50" fill="#fff" stroke="#00f" stroke-width="1.5"/>
<circle cx="487.63" cy="659.57" r="3.50" fill="#fff" stroke="#00f" stroke-width="1.5"/>
<circle cx="482.65" cy="660.03" r="3.50" fill="#fff" stroke="#00f" stroke-width="1.5"/>
<circle cx="477.67" cy="660.43" r="3.50" fill="#fff" stroke="#00f" stroke-width="1.5"/>
<circle cx="472.69" cy="660.75" r="3.50" fill="#fff" stroke="#00f" stroke-width="1.5"/>
<circle cx="467.71" cy="661.00" r="3.50" fill="#fff" stroke="#00f" stroke-width="1.5"/>
<circle cx="462.72" cy="661.20" r="3.50" fill="#fff" stroke="#00f" stroke-width="1.5"/>
<circle cx="457.74" cy="661.37" r="3.50" fill="#fff" stroke="#00f" stroke-width="1.5"/>
<circle cx="452.76" cy="661.55" r="3.50" fill="#fff" stroke="#00f" stroke-width="1.5"/>
<circle cx="447.78" cy="661.74" r="3.50" fill="#fff" stroke="#00f" stroke-width="1.5"/>
<circle cx="442.80" cy="661.93" r="3.50" fill="#fff" stroke="#00f" stroke-width="1.5"/>
<circle cx="437.81" cy="662.12" r="3.50" fill="#fff" stroke="#00f" stroke-width="1.5"/>
<path d="M741.71,657.62L738.57,659.57L738.57,663.47L741.71,665.42L744.85,663.47L744.85,659.57Z" fill="#fff" stroke="#0f0" stroke-width="1.5"/>
<path d="M736.73,657.59L733.59,659.54L733.59,663.44L736.73,665.39L739.87,663.44L739.87,659.54Z" fill="#fff" stroke="#0f0" stroke-width="1.5"/>
<path d="M731.75,657.54L728.61,659.49L728.61,663.39L731.75,665.34L734.89,663.39L734.89,659.49Z" fill="#fff" stroke="#0f0" stroke-width="1.5"/>
<path d="M726.76,657.46L723.62,659.41L723.62,663.31L726.76,665.26L729.91,663.31L729.91,659.41Z" fill="#fff" stroke="#0f0" stroke-width="1.5"/>
<path d="M721.78,657.35L718.64,659.30L718.64,663.20L721.78,665.15L724.92,663.20L724.92,659.30Z" fill="#fff" stroke="#0f0" stroke-width="1.5"/>
<path d="M716.80,657.23L713.66,659.18L713.66,663.08L716.80,665.03L719.94,663.08L719.94,659.18Z" fill="#fff" stroke="#0f0" stroke-width="1.5"/>
<path d="M711.82,657.08L708.68,659.03L708.68,662.93L711.82,664.88L714.96,662.93L714.96,659.03Z" fill="#fff" stroke="#0f0" stroke-width="1.5"/>
<path d="M706.84,656.91L703.70,658.86L703.70,662.76L706.84,664.71L709.98,662.76L709.98,658.86Z" fill="#fff" stroke="#0f0" stroke-width="1.5"/>
<path d="M701.85,656.71L698.71,658.66L698.71,662.56L701.85,664.51L705.00,662.56L705.00,658.66Z" fill="#fff" stroke="#0f0" stroke-width="1.5"/>
<path d="M696.87,656.50L693.73,658.45L693.73,662.35L696.87,664.30L700.01,662.35L700.01,658.45Z" fill="#fff" stroke="#0f0" stroke-width="1.5"/>
<path d="M691.89,656.26L688.75,658.21L688.75,662.11L691.89,664.06L695.03,662.11L695.03,658.21Z" fill="#fff" stroke="#0f0" stroke-width="1.5"/>
<path d="M686.91,655.91L683.77,657.86L683.77,661.76L686.91,663.71L690.05,661.76L690.05,657.86Z" fill="#fff" stroke="#0f0" stroke-width="1.5"/>
<path d="M681.93,655.20L678.79,657.15L678.79,661.05L681.93,663.00L685.07,661.05L685.07,657.15Z" fill="#fff" stroke="#0f0" stroke-width="1.5"/>
<path d="M676.95,654.18L673.80,656.13L673.80,660.03L676.95,661.98L680.09,660.03L680.09,656.13Z" fill="#fff" stroke="#0f0" stroke-width="1.5"/>
<path d="M671.96,652.93L668.82,654.88L668.82,658.78L671.96,660.73L675.10,658.78L675.10,654.88Z" fill="#fff" stroke="#0f0" stroke-width="1.5"/>
<path d="M666.98,651.40L663.84,653.35L663.84,657.25L666.98,659.20L670.12,657.25L670.12,653.35Z" fill="#fff" stroke="#0f0" stroke-width="1.5"/>
<path d="M662.00,649.11L658.86,651.06L658.86,654.96L662.00,656.91L665.14,654.96L665.14,651.06Z" fill="#fff" stroke="#0f0" stroke-width="1.5"/>
<path d="M657.02,646.40L653.88,648.35L653.88,652.25L657.02,654.20L660.16,652.25L660.16,648.35Z" fill="#fff" stroke="#0f0" stroke-width="1.5"/>
<path d="M652.04,643.10L648.89,645.05L648.89,648.95L652.04,650.90L655.18,648.95L655.18,645.05Z" fill="#fff" stroke="#0f0" stroke-width="1.5"/>
<path d="M647.05,639.10L643.91,641.05L643.91,644.95L647.05,646.90L650.19,644.95L650.19,641.05Z" fill="#fff" stroke="#0f0" stroke-width="1.5"/>
<path d="M642.07,634.38L638.93,636.33L638.93,640.23L642.07,642.18L645.21,640.23L645.21,636.33Z" fill="#fff" stroke="#0f0" stroke-width="1.5"/>
<path d="M637.09,628.79L633.95,630.74L633.95,634.64L637.09,636.59L640.23,634.64L640.23,630.74Z" fill="#fff" stroke="#0f0" stroke-width="1.5"/>
<path d="M632.11,622.75L628.97,624.70L628.97,628.60L632.11,630.55L635.25,628.60L635.25,624.70Z" fill="#fff" stroke="#0f0" stroke-width="1.5"/>
<path d="M627.13,616.82L623.99,618.77L623.99,622.67L627.13,624.62L630.27,622.67L630.27,618.77Z" fill="#fff" stroke="#0f0" stroke-width="1.5"/>
<path d="M622.14,610.18L619.00,612.13L619.00,616.03L622.14,617.98L625.29,616.03L625.29,612.13Z" fill="#fff" stroke="#0f0" stroke-width="1.5"/>
<path d="M617.16,603.98L614.02,605.93L614.02,609.83L617.16,611.78L620.30,609.83L620.30,605.93Z" fill="#fff" stroke="#0f0" stroke-width="1.5"/>
<path d="M612.18,598.92L609.04,600.87L609.04,604.77L612.18,606.72L615.32,604.77L615.32,600.87Z" fill="#fff" stroke="#0f0" stroke-width="1.5"/>
<path d="M607.20,595.94L604.06,597.89L604.06,601.79L607.20,603.74L610.34,601.79L610.34,597.89Z" fill="#fff" stroke="#0f0" stroke-width="1.5"/>
<path d="M602.22,595.51L599.08,597.46L599.08,601.36L602.22,603.31L605.36,601.36L605.36,597.46Z" fill="#fff" stroke="#0f0" stroke-width="1.5"/>
<path d="M597.23,596.84L594.09,598.79L594.09,602.69L597.23,604.64L600.38,602.69L600.38,598.79Z" fill="#fff" stroke="#0f0" stroke-width="1.5"/>
<path d="M592.25,599.52L589.11,601.47L589.11,605.37L592.25,607.32L595.39,605.37L595.39,601.47Z" fill="#fff" stroke="#0f0" stroke-width="1.5"/>
<path d="M587.27,603.07L584.13,605.02L584.13,608.92L587.27,610.87L590.41,608.92L590.41,605.02Z" fill="#fff" stroke="#0f0" stroke-width="1.5"/>
<path d="M582.29,607.53L579.15,609.48L579.15,613.38L582.29,615.33L585.43,613.38L585.43,609.48Z" fill="#fff" stroke="#0f0" stroke-width="1.5"/>
<path d="M577.31,611.82L574.17,613.77L574.17,617.67L577.31,619.62L580.45,617.67L580.45,613.77Z" fill="#fff" stroke="#0f0" stroke-width="1.5"/>
<path d="M572.33,616.30L569.18,618.25L569.18,622.15L572.33,624.10L575.47,622.15L575.47,618.25Z" fill="#fff" stroke="#0f0" stroke-width="1.5"/>
<path d="M567.34,621.37L564.20,623.32L564.20,627.22L567.34,629.17L570.48,627.22L570.48,623.32Z" fill="#fff" stroke="#0f0" stroke-width="1.5"/>
<path d="M562.36,626.23L559.22,628.18L559.22,632.08L562.36,634.03L565.50,632.08L565.50,628.18Z" fill="#fff" stroke="#0f0" stroke-width="1.5"/>
<path d="M557.38,631.15L554.24,633.10L554.24,637.00L557.38,638.95L560.52,637.00L560.52,633.10Z" fill="#fff" stroke="#0f0" stroke-width="1.5"/>
<path d="M552.40,634.61L549.26,636.56L549.26,640.46L552.40,642.41L555.54,640.46L555.54,636.56Z" fill="#fff" stroke="#0f0" stroke-width="1.5"/>
<path d="M547.42,637.70L544.27,639.65L544.27,643.55L547.42,645.50L550.56,643.55L550.56,639.65Z" fill="#fff" stroke="#0f0" stroke-width="1.5"/>
<path d="M542.43,640.65L539.29,642.60L539.29,646.50L542.43,648.45L545.58,646.50L545.58,642.60Z" fill="#fff" stroke="#0f0" stroke-width="1.5"/>
<path d="M537.45,643.74L534.31,645.69L534.31,649.59L537.45,651.54L540.59,649.59L540.59,645.69Z" fill="#fff" stroke="#0f0" stroke-width="1.5"/>
<path d="M532.47,646.49L529.33,648.44L529.33,652.34L532.47,654.29L535.61,652.34L535.61,648.44Z" fill="#fff" stroke="#0f0" stroke-width="1.5"/>
<path d="M527.49,648.67L524.35,650.62L524.35,654.52L527.49,656.47L530.63,654.52L530.63,650.62Z" fill="#fff" stroke="#0f0" stroke-width="1.5"/>
<path d="M522.51,650.39L519.37,652.34L519.37,656.24L522.51,658.19L525.65,656.24L525.65,652.34Z" fill="#fff" stroke="#0f0" stroke-width="1.5"/>
<path d="M517.52,651.71L514.38,653.66L514.38,657.56L517.52,659.51L520.67,657.56L520.67,653.66Z" fill="#fff" stroke="#0f0" stroke-width="1.5"/>
<path d="M512.54,652.78L509.40,654.73L509.40,658.63L512.54,660.58L515.68,658.63L515.68,654.73Z" fill="#fff" stroke="#0f0" stroke-width="1.5"/>
<path d="M507.56,653.67L504.42,655.62L504.42,659.52L507.56,661.47L510.70,659.52L510.70,655.62Z" fill="#fff" stroke="#0f0" stroke-width="1.5"/>
<path d="M502.58,654.44L499.44,656.39L499.44,660.29L502.58,662.24L505.72,660.29L505.72,656.39Z" fill="#fff" stroke="#0f0" stroke-width="1.5"/>
<path d="M497.60,655.22L494.46,657.17L494.46,661.07L497.60,663.02L500.74,661.07L500.74,657.17Z" fill="#fff" stroke="#0f0" stroke-width="1.5"/>
<path d="M492.62,655.82L489.47,657.77L489.47,661.67L492.62,663.62L495.76,661.67L495.76,657.77Z" fill="#fff" stroke="#0f0" stroke-width="1.5"/>
<path d="M487.63,656.24L484.49,658.19L484.49,662.09L487.63,664.04L490.77,662.09L490.77,658.19Z" fill="#fff" stroke="#0f0" stroke-width="1.5"/>
<path d="M482.65,656.60L479.51,658.55L479.51,662.45L482.65,664.40L485.79,662.45L485.79,658.55Z" fill="#fff" stroke="#0f0" stroke-width="1.5"/>
<path d="M477.67,656.90L474.53,658.85L474.53,662.75L477.67,664.70L480.81,662.75L480.81,658.85Z" fill="#fff" stroke="#0f0" stroke-width="1.5"/>
<path d="M472.69,657.14L469.55,659.09L469.55,662.99L472.69,664.94L475.83,662.99L475.83,659.09Z" fill="#fff" stroke="#0f0" stroke-width="1.5"/>
<path d="M467.71,657.34L464.56,659.29L464.56,663.19L467.71,665.14L470.85,663.19L470.85,659.29Z" fill="#fff" stroke="#0f0" stroke-width="1.5"/>
<path d="M462.72,657.50L459.58,659.45L459.58,663.35L462.72,665.30L465.86,663.35L465.86,659.45Z" fill="#fff" stroke="#0f0" stroke-width="1.5"/>
<path d="M457.74,657.63L454.60,659.58L454.60,663.48L457.74,665.43L460.88,663.48L460.88,659.58Z" fill="#fff" stroke="#0f0" stroke-width="1.5"/>
<path d="M452.76,657.78L449.62,659.73L449.62,663.63L452.76,665.58L455.90,663.63L455.90,659.73Z" fill="#fff" stroke="#0f0" stroke-width="1.5"/>
<path d="M447.78,657.93L444.64,659.88L444.64,663.78L447.78,665.73L450.92,663.78L450.92,659.88Z" fill="#fff" stroke="#0f0" stroke-width="1.5"/>
<path d="M442.80,658.08L439.66,660.03L439.66,663.93L442.80,665.88L445.94,663.93L445.94,660.03Z" fill="#fff" stroke="#0f0" stroke-width="1.5"/>
<path d="M437.81,658.23L434.67,660.18L434.67,664.08L437.81,666.03L440.96,664.08L440.96,660.18Z" fill="#fff" stroke="#0f0" stroke-width="1.5"/>
<path d="M741.71,656.26L745.71,660.86L741.71,665.46L737.71,660.86Z" fill="#fff" stroke="#0ff" stroke-width="1.5"/>
<path d="M736.73,656.24L740.73,660.84L736.73,665.44L732.73,660.84Z" fill="#fff" stroke="#0ff" stroke-width="1.5"/>
<path d="M731.75,656.20L735.75,660.80L731.75,665.40L727.75,660.80Z" fill="#fff" stroke="#0ff" stroke-width="1.5"/>
<path d="M726.76,656.15L730.76,660.75L726.76,665.35L722.76,660.75Z" fill="#fff" stroke="#0ff" stroke-width="1.5"/>
<path d="M721.78,656.08L725.78,660.68L721.78,665.28L717.78,660.68Z" fill="#fff" stroke="#0ff" stroke-width="1.5"/>
<path d="M716.80,655.99L720.80,660.59L716.80,665.19L712.80,660.59Z" fill="#fff" stroke="#0ff" stroke-width="1.5"/>
<path d="M711.82,655.89L715.82,660.49L711.82,665.09L707.82,660.49Z" fill="#fff" stroke="#0ff" stroke-width="1.5"/>
<path d="M706.84,655.78L710.84,660.38L706.84,664.98L702.84,660.38Z" fill="#fff" stroke="#0ff" stroke-width="1.5"/>
<path d="M701.85,655.65L705.85,660.25L701.85,664.85L697.85,660.25Z" fill="#fff" stroke="#0ff" stroke-width="1.5"/>
<path d="M696.87,655.44L700.87,660.04L696.87,664.64L692.87,660.04Z" fill="#fff" stroke="#0ff" stroke-width="1.5"/>
<path d="M691.89,654.99L695.89,659.59L691.89,664.19L687.89,659.59Z" fill="#fff" stroke="#0ff" stroke-width="1.5"/>
<path d="M686.91,654.34L690.91,658.94L686.91,663.54L682.91,658.94Z" fill="#fff" stroke="#0ff" stroke-width="1.5"/>
<path d="M681.93,653.52L685.93,658.12L681.93,662.72L677.93,658.12Z" fill="#fff" stroke="#0ff" stroke-width="1.5"/>
<path d="M676.95,652.13L680.95,656.73L676.95,661.33L672.95,656.73Z" fill="#fff" stroke="#0ff" stroke-width="1.5"/>
<path d="M671.96,650.35L675.96,654.95L671.96,659.55L667.96,654.95Z" fill="#fff" stroke="#0ff" stroke-width="1.5"/>
<path d="M666.98,647.75L670.98,652.35L666.98,656.95L662.98,652.35Z" fill="#fff" stroke="#0ff" stroke-width="1.5"/>
<path d="M662.00,643.94L666.00,648.54L662.00,653.14L658.00,648.54Z" fill="#fff" stroke="#0ff" stroke-width="1.5"/>
<path d="M657.02,639.01L661.02,643.61L657.02,648.21L653.02,643.61Z" fill="#fff" stroke="#0ff" stroke-width="1.5"/>
<path d="M652.04,633.65L656.04,638.25L652.04,642.85L648.04,638.25Z" fill="#fff" stroke="#0ff" stroke-width="1.5"/>
<path d="M647.05,626.99L651.05,631.59L647.05,636.19L643.05,631.59Z" fill="#fff" stroke="#0ff" stroke-width="1.5"/>
<path d="M642.07,617.94L646.07,622.54L642.07,627.14L638.07,622.54Z" fill="#fff" stroke="#0ff" stroke-width="1.5"/>
<path d="M637.09,608.39L641.09,612.99L637.09,617.59L633.09,612.99Z" fill="#fff" stroke="#0ff" stroke-width="1.5"/>
<path d="M632.11,594.56L636.11,599.16L632.11,603.76L628.11,599.16Z" fill="#fff" stroke="#0ff" stroke-width="1.5"/>
<path d="M627.13,579.89L631.13,584.49L627.13,589.09L623.13,584.49Z" fill="#fff" stroke="#0ff" stroke-width="1.5"/>
<path d="M622.14,561.63L626.14,566.23L622.14,570.83L618.14,566.23Z" fill="#fff" stroke="#0ff" stroke-width="1.5"/>
<path d="M617.16,538.88L621.16,543.48L617.16,548.08L613.16,543.48Z" fill="#fff" stroke="#0ff" stroke-width="1.5"/>
<path d="M612.18,517.95L616.18,522.55L612.18,527.15L608.18,522.55Z" fill="#fff" stroke="#0ff" stroke-width="1.5"/>
<path d="M607.20,494.21L611.20,498.81L607.20,503.41L603.20,498.81Z" fill="#fff" stroke="#0ff" stroke-width="1.5"/>
<path d="M602.22,471.96L606.22,476.56L602.22,481.16L598.22,476.56Z" fill="#fff" stroke="#0ff" stroke-width="1.5"/>
<path d="M597.23,450.88L601.23,455.48L597.23,460.08L593.23,455.48Z" fill="#fff" stroke="#0ff" stroke-width="1.5"/>
<path d="M592.25,432.55L596.25,437.15L592.25,441.75L588.25,437.15Z" fill="#fff" stroke="#0ff" stroke-width="1.5"/>
<path d="M587.27,418.59L591.27,423.19L587.27,427.79L583.27,423.19Z" fill="#fff" stroke="#0ff" stroke-width="1.5"/>
<path d="M582.29,409.39L586.29,413.99L582.29,418.59L578.29,413.99Z" fill="#fff" stroke="#0ff" stroke-width="1.5"/>
<path d="M577.31,404.53L581.31,409.13L577.31,413.73L573.31,409.13Z" fill="#fff" stroke="#0ff" stroke-width="1.5"/>
<path d="M572.33,401.91L576.33,406.51L572.33,411.11L568.33,406.51Z" fill="#fff" stroke="#0ff" stroke-width="1.5"/>
<path d="M567.34,401.15L571.34,405.75L567.34,410.35L563.34,405.75Z" fill="#fff" stroke="#0ff" stroke-width="1.5"/>
<path d="M562.36,401.20L566.36,405.80L562.36,410.40L558.36,405.80Z" fill="#fff" stroke="#0ff" stroke-width="1.5"/>
<path d="M557.38,402.58L561.38,407.18L557.38,411.78L553.38,407.18Z" fill="#fff" stroke="#0ff" stroke-width="1.5"/>
<path d="M552.40,405.78L556.40,410.38L552.40,414.98L548.40,410.38Z" fill="#fff" stroke="#0ff" stroke-width="1.5"/>
<path d="M547.42,410.36L551.42,414.96L547.42,419.56L543.42,414.96Z" fill="#fff" stroke="#0ff" stroke-width="1.5"/>
<path d="M542.43,418.44L546.43,423.04L542.43,427.64L538.43,423.04Z" fill="#fff" stroke="#0ff" stroke-width="1.5"/>
<path d="M537.45,428.80L541.45,433.40L537.45,438.00L533.45,433.40Z" fill="#fff" stroke="#0ff" stroke-width="1.5"/>
<path d="M532.47,443.76L536.47,448.36L532.47,452.96L528.47,448.36Z" fill="#fff" stroke="#0ff" stroke-width="1.5"/>
<path d="M527.49,463.82L531.49,468.42L527.49,473.02L523.49,468.42Z" fill="#fff" stroke="#0ff" stroke-width="1.5"/>
<path d="M522.51,485.91L526.51,490.51L522.51,495.11L518.51,490.51Z" fill="#fff" stroke="#0ff" stroke-width="1.5"/>
<path d="M517.52,508.11L521.52,512.71L517.52,517.31L513.52,512.71Z" fill="#fff" stroke="#0ff" stroke-width="1.5"/>
<path d="M512.54,530.61L516.54,535.21L512.54,539.81L508.54,535.21Z" fill="#fff" stroke="#0ff" stroke-width="1.5"/>
<path d="M507.56,553.82L511.56,558.42L507.56,563.02L503.56,558.42Z" fill="#fff" stroke="#0ff" stroke-width="1.5"/>
<path d="M502.58,573.47L506.58,578.07L502.58,582.67L498.58,578.07Z" fill="#fff" stroke="#0ff" stroke-width="1.5"/>
<path d="M497.60,590.37L501.60,594.97L497.60,599.57L493.60,594.97Z" fill="#fff" stroke="#0ff" stroke-width="1.5"/>
<path d="M492.62,604.46L496.62,609.06L492.62,613.66L488.62,609.06Z" fill="#fff" stroke="#0ff" stroke-width="1.5"/>
<path d="M487.63,616.19L491.63,620.79L487.63,625.39L483.63,620.79Z" fill="#fff" stroke="#0ff" stroke-width="1.5"/>
<path d="M482.65,624.66L486.65,629.26L482.65,633.86L478.65,629.26Z" fill="#fff" stroke="#0ff" stroke-width="1.5"/>
<path d="M477.67,631.86L481.67,636.46L477.67,641.06L473.67,636.46Z" fill="#fff" stroke="#0ff" stroke-width="1.5"/>
<path d="M472.69,637.39L476.69,641.99L472.69,646.59L468.69,641.99Z" fill="#fff" stroke="#0ff" stroke-width="1.5"/>
<path d="M467.71,641.04L471.71,645.64L467.71,650.24L463.71,645.64Z" fill="#fff" stroke="#0ff" stroke-width="1.5"/>
<path d="M462.72,644.08L466.72,648.68L462.72,653.28L458.72,648.68Z" fill="#fff" stroke="#0ff" stroke-width="1.5"/>
<path d="M457.74,646.71L461.74,651.31L457.74,655.91L453.74,651.31Z" fill="#fff" stroke="#0ff" stroke-width="1.5"/>
<path d="M452.76,648.74L456.76,653.34L452.76,657.94L448.76,653.34Z" fill="#fff" stroke="#0ff" stroke-width="1.5"/>
<path d="M447.78,650.05L451.78,654.65L447.78,659.25L443.78,654.65Z" fill="#fff" stroke="#0ff" stroke-width="1.5"/>
<path d="M442.80,651.80L446.80,656.40L442.80,661.00L438.80,656.40Z" fill="#fff" stroke="#0ff" stroke-width="1.5"/>
<path d="M437.81,654.25L441.81,658.85L437.81,663.45L433.81,658.85Z" fill="#fff" stroke="#0ff" stroke-width="1.5"/>
<path d="M422.90,395.20H755.20V664.70" stroke="#000" stroke-width="1.5" fill="none"/>
</g>
<text x="18.00" y="12.70" font-size="18" text-anchor="start" font-weight="normal" >a)</text>
<text x="395.00" y="12.70" font-size="18" text-anchor="start" font-weight="normal" >b)</text>
<text x="17.00" y="384.00" font-size="18" text-anchor="start" font-weight="normal" >c)</text>
<text x="396.50" y="384.00" font-size="18" text-anchor="start" font-weight="normal" >d)</text>
<text x="210.60" y="339.50" font-size="15" text-anchor="middle" font-weight="normal" >ν [Hz]</text>
<text x="584.40" y="339.50" font-size="15" text-anchor="middle" font-weight="normal" >ν [Hz]</text>
<text x="209.60" y="705.30" font-size="15" text-anchor="middle" font-weight="normal" >ν [Hz]</text>
<text x="589.30" y="705.30" font-size="15" text-anchor="middle" font-weight="normal" >ν [Hz]</text>
<text x="0" y="0" font-size="19" text-anchor="middle" transform="translate(13.60,162.70) rotate(-90)">Z' [GΩ]</text>
<text x="0" y="0" font-size="19" text-anchor="middle" transform="translate(394.30,162.30) rotate(-90)">-Z'' [GΩ]</text>
<text x="0" y="0" font-size="17.5" text-anchor="middle" transform="translate(15.80,528.60) rotate(-90)">Z'[MΩ]</text>
<text x="0" y="0" font-size="18" text-anchor="middle" transform="translate(400.40,528.80) rotate(-90)">-Z''[MΩ]</text>
<text x="0" y="0" font-size="12.3" text-anchor="middle" transform="translate(533.00,165.50) rotate(-90)">Z', -Z''[GΩ]</text>
<text x="663.00" y="89.80" font-size="14" text-anchor="middle" font-weight="bold" >SC13</text>
<text x="663.00" y="107.00" font-size="13" text-anchor="middle" font-weight="normal" >ΔZ = 14.319(0.075)GΩ</text>
<text x="663.5" y="125.4" font-size="13" text-anchor="middle">ν<tspan dy="3" font-size="9">r</tspan><tspan dy="-3"> = 0.582(0.005)Hz</tspan></text>
<text x="663.00" y="145.60" font-size="13" text-anchor="middle" font-weight="normal" >α = 0.184(0.003)</text>
<rect x="678.80" y="32.30" width="5.80" height="5.80" fill="#fff" stroke="#000" stroke-width="1.4"/>
<text x="705.00" y="40.60" font-size="16" text-anchor="start" font-weight="normal" >SC13</text>
<path d="M681.70,51.10L685.94,58.45L677.46,58.45Z" fill="#fff" stroke="#f00" stroke-width="1.4" stroke-linejoin="miter"/>
<text x="705.00" y="62.20" font-size="16" text-anchor="start" font-weight="normal" >SC3</text>
<circle cx="647.60" cy="403.70" r="3.50" fill="#fff" stroke="#00f" stroke-width="1.5"/>
<text x="667.0" y="407.8" font-size="13">PC<tspan dy="3.6" font-size="9">71</tspan><tspan dy="-3.6">BM</tspan></text>
<path d="M648.00,417.90L652.00,422.50L648.00,427.10L644.00,422.50Z" fill="#fff" stroke="#0ff" stroke-width="1.5"/>
<text x="667.0" y="426.6" font-size="13">SC3:PC<tspan dy="3.6" font-size="9">71</tspan><tspan dy="-3.6">BM</tspan></text>
<path d="M647.60,437.40L644.46,439.35L644.46,443.25L647.60,445.20L650.74,443.25L650.74,439.35Z" fill="#fff" stroke="#0f0" stroke-width="1.5"/>
<text x="667.0" y="445.3" font-size="13">SC13:PC<tspan dy="3.6" font-size="9">71</tspan><tspan dy="-3.6">BM</tspan></text>
</svg></body></html>
